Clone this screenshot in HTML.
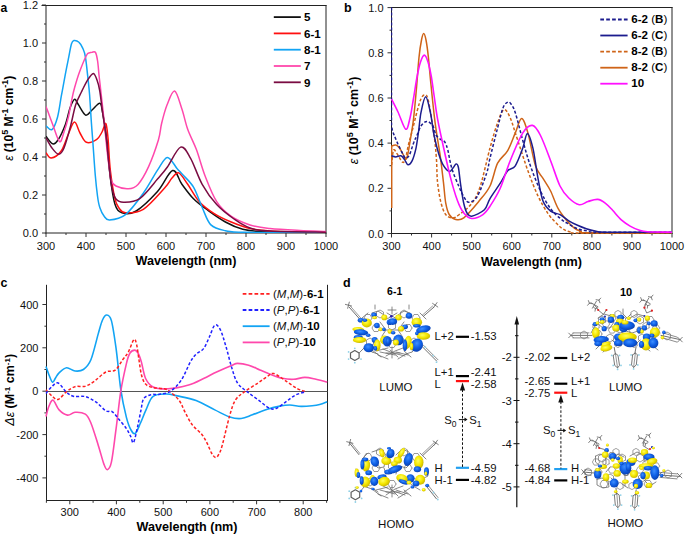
<!DOCTYPE html>
<html><head><meta charset="utf-8"><style>
html,body{margin:0;padding:0;background:#fff;}
svg{display:block;font-family:"Liberation Sans", sans-serif;}
</style></head><body>
<svg width="685" height="535" viewBox="0 0 685 535">
<defs>
<radialGradient id="gy" cx="42%" cy="38%" r="62%"><stop offset="0" stop-color="#ffff60"/><stop offset="0.55" stop-color="#f4e600"/><stop offset="1" stop-color="#cdb800"/></radialGradient>
<radialGradient id="gb" cx="42%" cy="38%" r="62%"><stop offset="0" stop-color="#3d8eff"/><stop offset="0.55" stop-color="#0f60e6"/><stop offset="1" stop-color="#0a42b4"/></radialGradient>
<clipPath id="clipA"><rect x="46" y="5" width="280" height="228"/></clipPath>
<clipPath id="clipB"><rect x="391" y="7" width="281" height="227"/></clipPath>
</defs>
<rect width="685" height="535" fill="#fff"/>
<text x="0.5" y="12.0" font-size="12.2" text-anchor="start" font-weight="bold" fill="#000">a</text>
<line x1="46.0" y1="5.5" x2="46.0" y2="233.5" stroke="#222" stroke-width="1"/>
<line x1="326.0" y1="5.0" x2="326.0" y2="233.5" stroke="#222" stroke-width="1"/>
<line x1="41.5" y1="5.5" x2="326.5" y2="5.5" stroke="#222" stroke-width="1"/>
<line x1="45.5" y1="233.0" x2="326.5" y2="233.0" stroke="#222" stroke-width="1"/>
<line x1="42.0" y1="233.0" x2="46.0" y2="233.0" stroke="#333" stroke-width="1"/>
<text x="38.0" y="237.0" font-size="11" text-anchor="end" fill="#111">0.0</text>
<line x1="44.0" y1="214.0" x2="46.0" y2="214.0" stroke="#333" stroke-width="1"/>
<line x1="42.0" y1="195.0" x2="46.0" y2="195.0" stroke="#333" stroke-width="1"/>
<text x="38.0" y="199.0" font-size="11" text-anchor="end" fill="#111">0.2</text>
<line x1="44.0" y1="176.0" x2="46.0" y2="176.0" stroke="#333" stroke-width="1"/>
<line x1="42.0" y1="157.0" x2="46.0" y2="157.0" stroke="#333" stroke-width="1"/>
<text x="38.0" y="161.0" font-size="11" text-anchor="end" fill="#111">0.4</text>
<line x1="44.0" y1="138.0" x2="46.0" y2="138.0" stroke="#333" stroke-width="1"/>
<line x1="42.0" y1="119.0" x2="46.0" y2="119.0" stroke="#333" stroke-width="1"/>
<text x="38.0" y="123.0" font-size="11" text-anchor="end" fill="#111">0.6</text>
<line x1="44.0" y1="100.0" x2="46.0" y2="100.0" stroke="#333" stroke-width="1"/>
<line x1="42.0" y1="81.0" x2="46.0" y2="81.0" stroke="#333" stroke-width="1"/>
<text x="38.0" y="85.0" font-size="11" text-anchor="end" fill="#111">0.8</text>
<line x1="44.0" y1="62.0" x2="46.0" y2="62.0" stroke="#333" stroke-width="1"/>
<line x1="42.0" y1="43.0" x2="46.0" y2="43.0" stroke="#333" stroke-width="1"/>
<text x="38.0" y="47.0" font-size="11" text-anchor="end" fill="#111">1.0</text>
<line x1="44.0" y1="24.0" x2="46.0" y2="24.0" stroke="#333" stroke-width="1"/>
<line x1="42.0" y1="5.0" x2="46.0" y2="5.0" stroke="#333" stroke-width="1"/>
<text x="38.0" y="9.0" font-size="11" text-anchor="end" fill="#111">1.2</text>
<line x1="46.0" y1="233.0" x2="46.0" y2="237.0" stroke="#333" stroke-width="1"/>
<text x="46.0" y="250.0" font-size="11" text-anchor="middle" fill="#111">300</text>
<line x1="66.0" y1="233.0" x2="66.0" y2="235.0" stroke="#333" stroke-width="1"/>
<line x1="86.0" y1="233.0" x2="86.0" y2="237.0" stroke="#333" stroke-width="1"/>
<text x="86.0" y="250.0" font-size="11" text-anchor="middle" fill="#111">400</text>
<line x1="106.0" y1="233.0" x2="106.0" y2="235.0" stroke="#333" stroke-width="1"/>
<line x1="126.0" y1="233.0" x2="126.0" y2="237.0" stroke="#333" stroke-width="1"/>
<text x="126.0" y="250.0" font-size="11" text-anchor="middle" fill="#111">500</text>
<line x1="146.0" y1="233.0" x2="146.0" y2="235.0" stroke="#333" stroke-width="1"/>
<line x1="166.0" y1="233.0" x2="166.0" y2="237.0" stroke="#333" stroke-width="1"/>
<text x="166.0" y="250.0" font-size="11" text-anchor="middle" fill="#111">600</text>
<line x1="186.0" y1="233.0" x2="186.0" y2="235.0" stroke="#333" stroke-width="1"/>
<line x1="206.0" y1="233.0" x2="206.0" y2="237.0" stroke="#333" stroke-width="1"/>
<text x="206.0" y="250.0" font-size="11" text-anchor="middle" fill="#111">700</text>
<line x1="226.0" y1="233.0" x2="226.0" y2="235.0" stroke="#333" stroke-width="1"/>
<line x1="246.0" y1="233.0" x2="246.0" y2="237.0" stroke="#333" stroke-width="1"/>
<text x="246.0" y="250.0" font-size="11" text-anchor="middle" fill="#111">800</text>
<line x1="266.0" y1="233.0" x2="266.0" y2="235.0" stroke="#333" stroke-width="1"/>
<line x1="286.0" y1="233.0" x2="286.0" y2="237.0" stroke="#333" stroke-width="1"/>
<text x="286.0" y="250.0" font-size="11" text-anchor="middle" fill="#111">900</text>
<line x1="306.0" y1="233.0" x2="306.0" y2="235.0" stroke="#333" stroke-width="1"/>
<line x1="326.0" y1="233.0" x2="326.0" y2="237.0" stroke="#333" stroke-width="1"/>
<text x="326.0" y="250.0" font-size="11" text-anchor="middle" fill="#111">1000</text>
<text x="186.0" y="264.5" font-size="12.6" text-anchor="middle" font-weight="bold" fill="#000">Wavelength (nm)</text>
<text transform="translate(12.5,118.3) rotate(-90)" font-size="12" text-anchor="middle" font-weight="bold" fill="#000"><tspan font-style="italic" font-weight="normal">&#949;</tspan> (10<tspan dy="-4.5" font-size="9">5</tspan><tspan dy="4.5"> M</tspan><tspan dy="-4.5" font-size="9">-1</tspan><tspan dy="4.5"> cm</tspan><tspan dy="-4.5" font-size="9">-1</tspan><tspan dy="4.5">)</tspan></text>
<g clip-path="url(#clipA)">
<path d="M46.0 136.3 C47.1 137.6 50.7 143.2 52.7 143.8 C54.7 144.4 55.9 143.2 58.0 140.0 C60.1 136.8 63.4 129.7 65.4 124.4 C67.4 119.1 68.5 112.2 70.0 108.0 C71.5 103.8 73.1 100.0 74.4 99.3 C75.7 98.6 76.1 101.4 78.0 104.0 C79.9 106.6 83.3 114.1 85.6 115.1 C87.9 116.1 89.6 112.0 92.0 110.0 C94.4 108.0 98.0 102.9 99.8 103.2 C101.5 103.5 101.3 105.9 102.5 112.0 C103.7 118.1 105.7 129.5 106.9 140.0 C108.2 150.5 108.7 164.3 110.0 175.0 C111.3 185.7 112.9 197.7 114.9 204.0 C116.9 210.3 118.5 211.6 122.0 212.8 C125.5 214.0 130.3 214.6 136.2 211.0 C142.1 207.4 151.4 198.2 157.5 191.5 C163.6 184.8 168.5 171.7 172.6 170.5 C176.7 169.3 178.4 179.6 181.9 184.3 C185.4 189.0 189.2 194.5 193.5 198.8 C197.8 203.2 202.7 206.5 208.0 210.4 C213.3 214.3 219.6 218.8 225.4 222.0 C231.2 225.2 237.0 227.7 242.8 229.3 C248.6 230.9 252.1 231.0 260.0 231.5 C267.9 232.0 279.0 232.1 290.0 232.3 C301.0 232.5 320.0 232.5 326.0 232.5" fill="none" stroke="#111111" stroke-width="1.5" stroke-linejoin="round"/>
<path d="M46.0 152.8 C46.9 153.7 48.7 158.2 51.2 158.0 C53.7 157.8 58.2 155.1 61.0 151.3 C63.8 147.5 65.8 139.9 68.0 135.0 C70.2 130.1 72.4 122.4 74.4 122.1 C76.4 121.8 78.0 129.6 80.0 133.0 C82.0 136.4 83.6 141.2 86.4 142.3 C89.2 143.4 94.2 141.0 96.8 139.3 C99.4 137.6 100.5 134.6 102.0 132.0 C103.5 129.4 104.8 122.6 105.8 123.6 C106.8 124.6 107.2 130.3 108.0 138.0 C108.8 145.7 109.1 159.9 110.3 170.0 C111.5 180.1 113.5 192.3 114.9 198.6 C116.4 204.9 117.2 205.6 119.0 208.0 C120.8 210.4 121.5 212.6 125.5 212.8 C129.6 213.0 136.8 213.4 143.3 209.3 C149.8 205.2 159.8 193.2 164.6 188.0 C169.4 182.8 169.6 180.5 172.0 178.0 C174.4 175.5 176.2 171.8 178.8 172.9 C181.4 174.0 184.3 179.5 187.7 184.3 C191.1 189.1 195.0 196.9 199.3 201.7 C203.7 206.5 208.5 209.9 213.8 213.3 C219.1 216.7 225.2 219.5 231.2 222.0 C237.2 224.5 243.5 227.0 250.0 228.5 C256.5 230.0 261.7 230.4 270.0 231.0 C278.3 231.6 290.7 231.8 300.0 232.0 C309.3 232.2 321.7 232.4 326.0 232.5" fill="none" stroke="#ff1010" stroke-width="1.5" stroke-linejoin="round"/>
<path d="M46.0 125.9 C47.0 126.5 50.0 131.0 51.9 129.6 C53.8 128.2 56.0 122.7 57.5 117.2 C59.0 111.7 60.0 103.6 61.2 96.7 C62.5 89.8 63.8 82.6 65.0 76.1 C66.2 69.5 67.6 62.8 68.7 57.4 C69.8 52.0 70.6 46.6 71.5 43.8 C72.4 41.0 72.7 40.9 73.9 40.6 C75.2 40.4 77.5 41.0 79.0 42.3 C80.5 43.5 81.6 45.6 82.7 48.1 C83.8 50.6 84.6 51.8 85.5 57.4 C86.4 63.0 87.6 75.4 88.3 81.7 C89.0 88.0 89.1 88.6 89.6 95.0 C90.1 101.4 90.7 112.5 91.2 120.0 C91.7 127.5 92.0 130.8 92.7 140.0 C93.4 149.2 94.5 166.2 95.3 175.5 C96.1 184.8 96.8 190.7 97.5 196.0 C98.2 201.3 98.7 204.2 99.8 207.5 C100.9 210.8 102.4 213.9 104.0 216.0 C105.6 218.1 105.9 220.1 109.5 219.9 C113.1 219.7 119.9 219.0 125.5 214.6 C131.1 210.2 138.0 200.7 143.3 193.3 C148.6 185.9 153.5 176.2 157.5 170.2 C161.5 164.2 164.1 157.7 167.3 157.4 C170.6 157.1 174.4 165.5 177.0 168.4 C179.6 171.3 180.2 171.9 183.0 175.0 C185.8 178.1 190.3 181.8 193.5 187.2 C196.7 192.6 199.3 201.2 202.2 207.5 C205.1 213.8 207.0 221.0 210.9 224.9 C214.8 228.8 219.7 229.5 225.4 230.7 C231.1 231.9 228.2 232.0 245.0 232.3 C261.8 232.6 312.5 232.5 326.0 232.5" fill="none" stroke="#12a4f4" stroke-width="1.5" stroke-linejoin="round"/>
<path d="M46.0 106.4 C47.1 109.3 50.2 118.1 52.5 124.0 C54.8 129.9 57.6 140.3 59.5 141.6 C61.4 142.9 62.5 136.1 64.0 132.0 C65.5 127.9 67.1 122.4 68.4 117.0 C69.7 111.6 70.8 104.4 71.8 99.6 C72.8 94.8 73.2 92.6 74.5 88.0 C75.8 83.4 77.5 77.4 79.5 72.0 C81.5 66.6 84.8 58.7 86.4 55.5 C88.0 52.3 88.4 53.3 89.3 52.8 C90.2 52.3 91.0 52.3 92.0 52.3 C93.0 52.2 94.6 51.0 95.5 52.5 C96.4 54.0 97.0 57.2 97.6 61.0 C98.2 64.8 98.5 70.0 99.0 75.0 C99.5 80.0 100.0 83.5 100.8 91.0 C101.6 98.5 103.0 110.2 104.0 120.0 C105.0 129.8 106.1 141.7 107.0 150.0 C107.9 158.3 108.8 164.8 109.5 170.0 C110.2 175.2 110.2 178.2 111.3 180.9 C112.4 183.6 113.2 184.7 116.0 186.0 C118.8 187.3 124.5 189.1 128.2 188.8 C131.9 188.5 134.6 188.1 138.0 184.4 C141.4 180.7 145.2 174.0 148.6 166.6 C152.0 159.2 156.2 147.2 158.4 140.0 C160.6 132.8 160.2 129.3 161.6 123.5 C163.0 117.7 164.8 110.4 167.0 105.0 C169.2 99.6 172.1 90.3 174.6 91.0 C177.1 91.7 179.7 102.6 181.9 109.0 C184.1 115.4 185.3 122.5 187.7 129.3 C190.1 136.1 193.5 141.9 196.4 149.6 C199.3 157.3 201.6 167.0 205.0 175.7 C208.4 184.4 212.4 194.9 216.7 201.7 C221.0 208.4 225.4 212.3 231.0 216.2 C236.6 220.1 243.5 222.9 250.0 225.0 C256.5 227.1 261.7 227.6 270.0 228.5 C278.3 229.4 290.7 230.0 300.0 230.5 C309.3 231.0 321.7 231.3 326.0 231.5" fill="none" stroke="#ff48ac" stroke-width="1.5" stroke-linejoin="round"/>
<path d="M46.0 137.8 C47.0 139.5 49.9 145.2 52.0 148.0 C54.1 150.8 56.7 154.3 58.7 154.3 C60.7 154.3 62.0 152.7 64.0 148.0 C66.0 143.3 68.7 133.1 70.6 125.9 C72.5 118.7 73.8 110.7 75.6 105.0 C77.4 99.3 79.4 96.1 81.4 92.0 C83.4 87.9 85.4 83.4 87.4 80.3 C89.4 77.2 91.7 73.5 93.3 73.4 C94.9 73.4 95.9 77.1 97.0 80.0 C98.1 82.9 99.0 86.3 99.8 91.0 C100.6 95.7 101.3 102.8 102.0 108.0 C102.7 113.2 103.2 116.7 104.0 122.0 C104.8 127.3 105.7 132.8 106.5 140.0 C107.3 147.2 108.1 157.0 109.0 165.0 C109.9 173.0 110.8 182.3 112.0 188.0 C113.2 193.7 114.0 196.6 116.0 199.0 C118.0 201.4 119.8 202.3 123.7 202.2 C127.7 202.1 134.1 202.4 139.7 198.6 C145.3 194.8 152.9 184.4 157.5 179.1 C162.1 173.8 163.6 172.3 167.4 167.0 C171.2 161.7 176.7 148.5 180.6 147.1 C184.5 145.7 187.0 152.1 190.6 158.3 C194.2 164.5 197.8 176.6 202.2 184.3 C206.5 192.0 211.4 198.8 216.7 204.6 C222.0 210.4 228.4 215.1 234.0 219.0 C239.6 222.9 244.0 226.0 250.0 228.0 C256.0 230.0 257.3 230.3 270.0 231.0 C282.7 231.7 316.7 232.1 326.0 232.3" fill="none" stroke="#7a0c42" stroke-width="1.5" stroke-linejoin="round"/>
</g>
<line x1="273.8" y1="17.1" x2="300.8" y2="17.1" stroke="#111111" stroke-width="1.8"/>
<text x="304.0" y="21.4" font-size="11.6" text-anchor="start" font-weight="bold" fill="#000">5</text>
<line x1="273.8" y1="33.4" x2="300.8" y2="33.4" stroke="#ff1010" stroke-width="1.8"/>
<text x="304.0" y="37.7" font-size="11.6" text-anchor="start" font-weight="bold" fill="#000">6-1</text>
<line x1="273.8" y1="49.7" x2="300.8" y2="49.7" stroke="#12a4f4" stroke-width="1.8"/>
<text x="304.0" y="54.0" font-size="11.6" text-anchor="start" font-weight="bold" fill="#000">8-1</text>
<line x1="273.8" y1="66.0" x2="300.8" y2="66.0" stroke="#ff48ac" stroke-width="1.8"/>
<text x="304.0" y="70.3" font-size="11.6" text-anchor="start" font-weight="bold" fill="#000">7</text>
<line x1="273.8" y1="82.3" x2="300.8" y2="82.3" stroke="#7a0c42" stroke-width="1.8"/>
<text x="304.0" y="86.6" font-size="11.6" text-anchor="start" font-weight="bold" fill="#000">9</text>
<text x="344.0" y="12.0" font-size="12.5" text-anchor="start" font-weight="bold" fill="#000">b</text>
<line x1="391.5" y1="7.0" x2="391.5" y2="234.0" stroke="#222" stroke-width="1"/>
<line x1="672.0" y1="7.0" x2="672.0" y2="234.0" stroke="#222" stroke-width="1"/>
<line x1="391.0" y1="7.5" x2="672.5" y2="7.5" stroke="#222" stroke-width="1"/>
<line x1="391.0" y1="233.5" x2="672.5" y2="233.5" stroke="#222" stroke-width="1"/>
<line x1="387.5" y1="233.5" x2="391.5" y2="233.5" stroke="#333" stroke-width="1"/>
<text x="383.5" y="237.5" font-size="11" text-anchor="end" fill="#111">0.0</text>
<line x1="389.5" y1="210.9" x2="391.5" y2="210.9" stroke="#333" stroke-width="1"/>
<line x1="387.5" y1="188.3" x2="391.5" y2="188.3" stroke="#333" stroke-width="1"/>
<text x="383.5" y="192.3" font-size="11" text-anchor="end" fill="#111">0.2</text>
<line x1="389.5" y1="165.7" x2="391.5" y2="165.7" stroke="#333" stroke-width="1"/>
<line x1="387.5" y1="143.1" x2="391.5" y2="143.1" stroke="#333" stroke-width="1"/>
<text x="383.5" y="147.1" font-size="11" text-anchor="end" fill="#111">0.4</text>
<line x1="389.5" y1="120.5" x2="391.5" y2="120.5" stroke="#333" stroke-width="1"/>
<line x1="387.5" y1="98.0" x2="391.5" y2="98.0" stroke="#333" stroke-width="1"/>
<text x="383.5" y="102.0" font-size="11" text-anchor="end" fill="#111">0.6</text>
<line x1="389.5" y1="75.4" x2="391.5" y2="75.4" stroke="#333" stroke-width="1"/>
<line x1="387.5" y1="52.8" x2="391.5" y2="52.8" stroke="#333" stroke-width="1"/>
<text x="383.5" y="56.8" font-size="11" text-anchor="end" fill="#111">0.8</text>
<line x1="389.5" y1="30.2" x2="391.5" y2="30.2" stroke="#333" stroke-width="1"/>
<line x1="387.5" y1="7.6" x2="391.5" y2="7.6" stroke="#333" stroke-width="1"/>
<text x="383.5" y="11.6" font-size="11" text-anchor="end" fill="#111">1.0</text>
<line x1="391.5" y1="233.5" x2="391.5" y2="237.5" stroke="#333" stroke-width="1"/>
<text x="391.5" y="250.0" font-size="11" text-anchor="middle" fill="#111">300</text>
<line x1="411.5" y1="233.5" x2="411.5" y2="235.5" stroke="#333" stroke-width="1"/>
<line x1="431.6" y1="233.5" x2="431.6" y2="237.5" stroke="#333" stroke-width="1"/>
<text x="431.6" y="250.0" font-size="11" text-anchor="middle" fill="#111">400</text>
<line x1="451.6" y1="233.5" x2="451.6" y2="235.5" stroke="#333" stroke-width="1"/>
<line x1="471.6" y1="233.5" x2="471.6" y2="237.5" stroke="#333" stroke-width="1"/>
<text x="471.6" y="250.0" font-size="11" text-anchor="middle" fill="#111">500</text>
<line x1="491.7" y1="233.5" x2="491.7" y2="235.5" stroke="#333" stroke-width="1"/>
<line x1="511.7" y1="233.5" x2="511.7" y2="237.5" stroke="#333" stroke-width="1"/>
<text x="511.7" y="250.0" font-size="11" text-anchor="middle" fill="#111">600</text>
<line x1="531.8" y1="233.5" x2="531.8" y2="235.5" stroke="#333" stroke-width="1"/>
<line x1="551.8" y1="233.5" x2="551.8" y2="237.5" stroke="#333" stroke-width="1"/>
<text x="551.8" y="250.0" font-size="11" text-anchor="middle" fill="#111">700</text>
<line x1="571.8" y1="233.5" x2="571.8" y2="235.5" stroke="#333" stroke-width="1"/>
<line x1="591.9" y1="233.5" x2="591.9" y2="237.5" stroke="#333" stroke-width="1"/>
<text x="591.9" y="250.0" font-size="11" text-anchor="middle" fill="#111">800</text>
<line x1="611.9" y1="233.5" x2="611.9" y2="235.5" stroke="#333" stroke-width="1"/>
<line x1="631.9" y1="233.5" x2="631.9" y2="237.5" stroke="#333" stroke-width="1"/>
<text x="631.9" y="250.0" font-size="11" text-anchor="middle" fill="#111">900</text>
<line x1="652.0" y1="233.5" x2="652.0" y2="235.5" stroke="#333" stroke-width="1"/>
<line x1="672.0" y1="233.5" x2="672.0" y2="237.5" stroke="#333" stroke-width="1"/>
<text x="672.0" y="250.0" font-size="11" text-anchor="middle" fill="#111">1000</text>
<text x="531.5" y="266.2" font-size="12.6" text-anchor="middle" font-weight="bold" fill="#000">Wavelength (nm)</text>
<text transform="translate(357.8,120.5) rotate(-90)" font-size="12.5" text-anchor="middle" font-weight="bold" fill="#000"><tspan font-style="italic" font-weight="normal">&#949;</tspan> (10<tspan dy="-4.5" font-size="9">5</tspan><tspan dy="4.5"> M</tspan><tspan dy="-4.5" font-size="9">-1</tspan><tspan dy="4.5"> cm</tspan><tspan dy="-4.5" font-size="9">-1</tspan><tspan dy="4.5">)</tspan></text>
<g clip-path="url(#clipB)">
<path d="M391.7 208 L391.7 150 391.7 146.0 C392.4 145.8 394.4 144.7 395.7 145.0 C397.0 145.3 398.2 146.4 399.5 148.0 C400.8 149.6 402.2 152.8 403.2 154.7 C404.2 156.6 404.6 159.5 405.4 159.5 C406.1 159.5 406.8 158.4 407.7 154.7 C408.6 151.0 409.8 143.3 410.7 137.5 C411.6 131.7 412.4 128.2 413.4 120.0 C414.4 111.8 415.6 98.4 416.5 88.0 C417.4 77.6 418.2 65.4 419.0 57.4 C419.8 49.4 420.7 44.0 421.5 40.0 C422.3 36.0 422.9 33.5 423.7 33.5 C424.4 33.5 425.2 36.0 426.0 40.0 C426.8 44.0 427.6 49.9 428.4 57.4 C429.2 64.9 429.9 74.0 431.0 85.0 C432.1 96.0 433.7 112.0 435.2 123.4 C436.7 134.8 438.5 144.0 439.9 153.7 C441.3 163.4 442.4 173.6 443.4 181.8 C444.4 190.0 444.7 197.4 445.7 202.8 C446.7 208.2 447.6 211.8 449.2 214.5 C450.8 217.2 452.6 218.6 455.0 219.2 C457.4 219.8 459.7 221.0 463.8 217.8 C467.9 214.7 475.3 205.6 479.7 200.3 C484.1 195.0 487.0 192.2 490.0 186.0 C493.0 179.8 494.7 169.1 497.6 163.2 C500.6 157.3 504.8 155.6 507.7 150.6 C510.6 145.6 513.0 138.2 515.3 132.9 C517.6 127.6 519.5 118.5 521.6 118.5 C523.7 118.5 525.6 125.0 527.9 132.9 C530.2 140.8 533.0 158.2 535.5 165.8 C538.0 173.4 540.5 174.2 543.0 178.4 C545.5 182.6 548.1 185.9 550.6 191.0 C553.1 196.1 555.5 203.7 558.2 208.7 C560.9 213.7 564.4 217.6 567.0 220.8 C569.6 224.0 571.7 226.1 574.0 227.8 C576.3 229.6 578.7 230.5 581.0 231.3 C583.3 232.1 572.8 232.4 588.0 232.7 C603.2 233.0 658.0 232.9 672.0 233.0" fill="none" stroke="#cf6418" stroke-width="1.5" stroke-linejoin="round"/>
<path d="M391.6 165.0 C391.9 162.5 392.6 152.0 393.5 150.2 C394.4 148.3 395.7 151.9 397.2 153.9 C398.7 155.9 401.0 161.2 402.4 162.1 C403.8 163.0 404.4 162.0 405.4 159.2 C406.4 156.3 407.3 149.6 408.4 145.0 C409.5 140.4 410.4 137.6 411.9 131.9 C413.4 126.2 415.7 116.4 417.2 110.9 C418.7 105.4 419.7 101.7 420.9 99.0 C422.1 96.3 423.4 94.8 424.6 95.0 C425.8 95.2 426.6 93.3 428.2 100.0 C429.8 106.7 432.6 125.3 434.0 135.0 C435.4 144.7 435.8 150.6 436.4 158.4 C437.0 166.2 436.7 174.4 437.5 181.8 C438.3 189.2 439.6 197.4 441.0 202.8 C442.4 208.2 443.8 212.0 445.7 214.5 C447.6 217.0 450.3 218.1 452.7 218.0 C455.1 217.9 456.8 216.4 460.0 214.0 C463.2 211.6 468.4 208.0 471.7 203.5 C475.0 199.0 476.9 196.2 480.0 187.0 C483.1 177.8 487.1 158.7 490.0 148.0 C492.9 137.3 495.3 129.2 497.6 122.8 C499.9 116.4 501.8 110.5 503.9 109.7 C506.0 108.9 507.9 112.7 510.2 117.8 C512.5 122.9 514.8 131.7 517.8 140.5 C520.8 149.3 524.5 161.6 527.9 170.8 C531.3 180.1 534.6 188.8 538.0 196.0 C541.4 203.2 545.0 209.1 548.1 213.7 C551.2 218.3 554.4 221.2 556.9 223.8 C559.4 226.4 560.8 227.6 563.0 229.0 C565.2 230.4 567.2 231.3 570.0 232.0 C572.8 232.7 563.0 232.8 580.0 233.0 C597.0 233.2 656.7 233.0 672.0 233.0" fill="none" stroke="#cf6418" stroke-width="1.5" stroke-dasharray="3 2" stroke-linejoin="round"/>
<path d="M391.5 155.8 C392.2 156.0 394.1 156.9 395.7 156.9 C397.3 156.9 399.5 155.3 401.0 155.8 C402.5 156.3 403.5 158.4 404.7 159.9 C405.9 161.4 406.8 164.7 408.0 164.8 C409.2 164.9 410.9 163.4 412.2 160.7 C413.5 158.0 414.8 153.5 415.9 148.7 C416.9 143.9 417.6 138.1 418.5 132.0 C419.4 126.0 419.8 118.3 421.0 112.4 C422.2 106.5 424.1 96.6 425.7 96.7 C427.3 96.8 429.1 106.6 430.5 113.0 C431.9 119.4 432.6 128.2 434.0 135.0 C435.4 141.8 437.1 148.6 438.7 153.7 C440.3 158.8 441.6 162.4 443.4 165.4 C445.2 168.4 447.9 171.1 449.5 171.5 C451.1 171.9 451.9 169.2 453.0 168.0 C454.1 166.8 455.1 164.2 456.0 164.0 C456.9 163.8 457.5 163.6 458.3 167.0 C459.1 170.4 459.7 178.3 460.6 184.4 C461.5 190.5 462.7 198.7 463.8 203.5 C464.9 208.3 465.7 210.9 467.0 213.0 C468.3 215.1 468.8 216.7 471.7 216.2 C474.6 215.7 481.3 212.7 484.4 209.8 C487.4 206.9 487.4 203.0 490.0 198.6 C492.6 194.2 497.2 188.0 500.1 183.4 C503.1 178.8 505.2 173.7 507.7 170.8 C510.2 167.9 512.8 169.6 515.3 165.8 C517.8 162.0 520.8 153.5 522.8 148.1 C524.8 142.7 525.7 133.4 527.4 133.4 C529.1 133.4 531.1 140.6 532.9 148.1 C534.7 155.6 536.3 169.6 538.0 178.4 C539.7 187.2 540.9 195.6 543.0 201.1 C545.1 206.6 547.8 208.9 550.6 211.2 C553.4 213.5 557.0 213.1 560.0 214.7 C563.0 216.3 565.9 219.1 568.8 220.8 C571.7 222.6 574.6 223.9 577.5 225.2 C580.4 226.5 583.4 227.7 586.3 228.7 C589.2 229.7 591.5 230.4 595.0 231.0 C598.5 231.6 594.5 232.0 607.3 232.2 C620.1 232.4 661.2 232.4 672.0 232.4" fill="none" stroke="#1c1c8e" stroke-width="1.5" stroke-linejoin="round"/>
<path d="M391.5 7.6 L391.5 125 391.5 125.0 C391.7 126.0 392.1 129.3 392.5 131.0 C392.9 132.7 393.3 133.0 394.2 135.2 C395.1 137.4 396.5 140.9 398.0 144.2 C399.5 147.4 402.0 152.4 403.2 154.7 C404.4 157.0 404.4 157.9 405.4 158.0 C406.4 158.1 407.8 158.0 409.2 155.4 C410.6 152.8 412.4 145.9 413.7 142.7 C414.9 139.5 415.5 138.8 416.7 136.0 C417.9 133.2 419.3 128.4 421.0 126.0 C422.7 123.6 424.9 121.4 426.9 121.4 C428.9 121.4 431.4 123.7 432.9 126.0 C434.4 128.3 434.6 132.7 436.0 135.0 C437.4 137.3 439.5 138.5 441.0 139.7 C442.5 140.9 443.7 140.3 444.8 142.0 C445.9 143.7 446.7 145.7 447.8 150.0 C448.9 154.3 449.9 162.0 451.7 168.0 C453.5 174.0 456.6 181.0 458.7 186.0 C460.8 191.0 462.8 195.3 464.5 198.0 C466.2 200.7 467.1 202.5 469.2 202.2 C471.3 201.9 474.4 201.2 477.3 196.3 C480.2 191.4 484.6 179.3 486.7 173.0 C488.8 166.7 488.2 165.7 490.0 158.2 C491.8 150.7 495.4 136.3 497.6 127.9 C499.8 119.5 501.3 112.3 503.0 108.0 C504.7 103.7 506.4 102.8 507.7 102.1 C509.0 101.4 509.7 102.2 511.0 104.0 C512.3 105.8 513.3 106.6 515.3 112.7 C517.3 118.8 520.3 131.7 522.8 140.5 C525.3 149.3 527.4 157.4 530.4 165.8 C533.4 174.2 537.1 183.8 540.5 191.0 C543.9 198.2 547.2 204.1 550.6 208.7 C554.0 213.3 557.8 216.3 560.7 218.8 C563.7 221.3 565.5 222.2 568.3 223.8 C571.1 225.5 574.2 227.5 577.5 228.7 C580.8 229.9 584.5 230.4 588.0 231.0 C591.5 231.6 584.5 232.0 598.5 232.2 C612.5 232.4 659.8 232.2 672.0 232.2" fill="none" stroke="#1c1c8e" stroke-width="1.5" stroke-dasharray="3 2" stroke-linejoin="round"/>
<path d="M391.5 99.0 C392.6 101.2 395.6 107.0 398.0 112.0 C400.4 117.0 403.7 128.2 405.7 129.2 C407.7 130.2 408.7 123.0 410.0 118.0 C411.3 113.0 412.2 106.0 413.4 99.0 C414.6 92.0 416.0 82.2 417.2 76.0 C418.4 69.8 419.3 65.5 420.5 62.0 C421.7 58.5 423.1 55.1 424.3 55.1 C425.6 55.1 426.9 58.5 428.0 62.0 C429.1 65.5 430.2 70.5 431.2 76.0 C432.2 81.5 432.9 87.9 434.0 95.0 C435.1 102.1 435.9 110.1 437.5 118.7 C439.1 127.3 441.2 137.0 443.4 146.7 C445.5 156.4 448.1 168.1 450.4 177.1 C452.7 186.1 455.2 194.5 457.4 200.5 C459.6 206.5 461.4 210.0 463.8 213.0 C466.2 216.0 468.5 218.2 471.7 218.5 C474.9 218.8 479.8 216.7 482.9 214.6 C485.9 212.5 487.1 210.5 490.0 206.2 C492.9 201.8 496.7 196.1 500.1 188.5 C503.5 180.9 506.4 170.0 510.2 160.7 C514.0 151.4 519.1 138.8 522.8 132.9 C526.5 127.0 529.4 125.0 532.4 125.4 C535.4 125.8 537.5 129.6 540.5 135.5 C543.5 141.4 547.4 152.3 550.6 160.7 C553.9 169.1 557.0 179.8 560.0 186.0 C563.0 192.2 565.6 194.9 568.8 198.0 C572.0 201.1 576.1 204.1 579.3 204.7 C582.5 205.3 584.9 202.4 588.0 201.5 C591.1 200.6 594.8 199.1 597.7 199.4 C600.6 199.7 603.0 201.5 605.5 203.3 C608.0 205.1 610.0 207.5 612.6 210.3 C615.2 213.1 618.4 217.3 621.3 219.9 C624.2 222.5 627.2 224.4 630.1 226.1 C633.0 227.8 635.9 229.0 638.8 229.9 C641.7 230.8 642.1 231.3 647.6 231.7 C653.1 232.1 667.9 232.1 672.0 232.2" fill="none" stroke="#ff10ff" stroke-width="1.6" stroke-linejoin="round"/>
</g>
<line x1="600.3" y1="19.5" x2="627.6" y2="19.5" stroke="#1c1c8e" stroke-width="1.8" stroke-dasharray="3.7 2.2"/>
<text x="631.2" y="23.2" font-size="11.6" text-anchor="start" font-weight="bold" fill="#000">6-2 <tspan font-weight="normal">(</tspan>B<tspan font-weight="normal">)</tspan></text>
<line x1="600.3" y1="35.5" x2="627.6" y2="35.5" stroke="#1c1c8e" stroke-width="1.8"/>
<text x="631.2" y="39.2" font-size="11.6" text-anchor="start" font-weight="bold" fill="#000">6-2 <tspan font-weight="normal">(</tspan>C<tspan font-weight="normal">)</tspan></text>
<line x1="600.3" y1="51.6" x2="627.6" y2="51.6" stroke="#cf6418" stroke-width="1.8" stroke-dasharray="3.7 2.2"/>
<text x="631.2" y="55.3" font-size="11.6" text-anchor="start" font-weight="bold" fill="#000">8-2 <tspan font-weight="normal">(</tspan>B<tspan font-weight="normal">)</tspan></text>
<line x1="600.3" y1="67.7" x2="627.6" y2="67.7" stroke="#cf6418" stroke-width="1.8"/>
<text x="631.2" y="71.4" font-size="11.6" text-anchor="start" font-weight="bold" fill="#000">8-2 <tspan font-weight="normal">(</tspan>C<tspan font-weight="normal">)</tspan></text>
<line x1="600.3" y1="83.7" x2="627.6" y2="83.7" stroke="#ff10ff" stroke-width="1.8"/>
<text x="631.2" y="87.4" font-size="11.6" text-anchor="start" font-weight="bold" fill="#000">10</text>
<text x="0.5" y="287.0" font-size="12.5" text-anchor="start" font-weight="bold" fill="#000">c</text>
<line x1="46.5" y1="284.8" x2="46.5" y2="501.0" stroke="#222" stroke-width="1"/>
<line x1="327.5" y1="284.8" x2="327.5" y2="501.0" stroke="#222" stroke-width="1"/>
<line x1="46.0" y1="500.5" x2="328.0" y2="500.5" stroke="#222" stroke-width="1"/>
<line x1="46.5" y1="391.5" x2="327.5" y2="391.5" stroke="#555" stroke-width="1"/>
<line x1="42.4" y1="477.9" x2="46.4" y2="477.9" stroke="#333" stroke-width="1"/>
<text x="38.4" y="481.9" font-size="11" text-anchor="end" fill="#111">-400</text>
<line x1="42.4" y1="434.6" x2="46.4" y2="434.6" stroke="#333" stroke-width="1"/>
<text x="38.4" y="438.6" font-size="11" text-anchor="end" fill="#111">-200</text>
<line x1="42.4" y1="391.2" x2="46.4" y2="391.2" stroke="#333" stroke-width="1"/>
<text x="38.4" y="395.2" font-size="11" text-anchor="end" fill="#111">0</text>
<line x1="42.4" y1="347.8" x2="46.4" y2="347.8" stroke="#333" stroke-width="1"/>
<text x="38.4" y="351.8" font-size="11" text-anchor="end" fill="#111">200</text>
<line x1="42.4" y1="304.5" x2="46.4" y2="304.5" stroke="#333" stroke-width="1"/>
<text x="38.4" y="308.5" font-size="11" text-anchor="end" fill="#111">400</text>
<line x1="44.4" y1="456.2" x2="46.4" y2="456.2" stroke="#333" stroke-width="1"/>
<line x1="44.4" y1="412.9" x2="46.4" y2="412.9" stroke="#333" stroke-width="1"/>
<line x1="44.4" y1="369.5" x2="46.4" y2="369.5" stroke="#333" stroke-width="1"/>
<line x1="44.4" y1="326.2" x2="46.4" y2="326.2" stroke="#333" stroke-width="1"/>
<line x1="46.4" y1="500.3" x2="46.4" y2="502.8" stroke="#333" stroke-width="1"/>
<line x1="69.8" y1="500.3" x2="69.8" y2="504.3" stroke="#333" stroke-width="1"/>
<text x="69.8" y="516.3" font-size="11" text-anchor="middle" fill="#111">300</text>
<line x1="93.1" y1="500.3" x2="93.1" y2="502.8" stroke="#333" stroke-width="1"/>
<line x1="116.4" y1="500.3" x2="116.4" y2="504.3" stroke="#333" stroke-width="1"/>
<text x="116.4" y="516.3" font-size="11" text-anchor="middle" fill="#111">400</text>
<line x1="139.8" y1="500.3" x2="139.8" y2="502.8" stroke="#333" stroke-width="1"/>
<line x1="163.2" y1="500.3" x2="163.2" y2="504.3" stroke="#333" stroke-width="1"/>
<text x="163.2" y="516.3" font-size="11" text-anchor="middle" fill="#111">500</text>
<line x1="186.5" y1="500.3" x2="186.5" y2="502.8" stroke="#333" stroke-width="1"/>
<line x1="209.9" y1="500.3" x2="209.9" y2="504.3" stroke="#333" stroke-width="1"/>
<text x="209.9" y="516.3" font-size="11" text-anchor="middle" fill="#111">600</text>
<line x1="233.2" y1="500.3" x2="233.2" y2="502.8" stroke="#333" stroke-width="1"/>
<line x1="256.6" y1="500.3" x2="256.6" y2="504.3" stroke="#333" stroke-width="1"/>
<text x="256.6" y="516.3" font-size="11" text-anchor="middle" fill="#111">700</text>
<line x1="279.9" y1="500.3" x2="279.9" y2="502.8" stroke="#333" stroke-width="1"/>
<line x1="303.2" y1="500.3" x2="303.2" y2="504.3" stroke="#333" stroke-width="1"/>
<text x="303.2" y="516.3" font-size="11" text-anchor="middle" fill="#111">800</text>
<line x1="326.6" y1="500.3" x2="326.6" y2="502.8" stroke="#333" stroke-width="1"/>
<text x="187.0" y="531.0" font-size="12.6" text-anchor="middle" font-weight="bold" fill="#000">Wavelength (nm)</text>
<text transform="translate(14.3,389.8) rotate(-90)" font-size="12.5" text-anchor="middle" font-weight="bold" fill="#000"><tspan font-style="italic" font-weight="normal">&#916;&#949;</tspan> (M<tspan dy="-4" font-size="8">-1</tspan><tspan dy="4"> cm</tspan><tspan dy="-4" font-size="8">-1</tspan><tspan dy="4">)</tspan></text>
<path d="M46.0 366.4 C46.5 367.8 47.9 372.4 49.0 375.0 C50.1 377.6 51.4 381.7 52.5 382.2 C53.6 382.7 54.4 379.6 55.5 378.0 C56.6 376.4 57.2 374.6 59.1 372.9 C61.0 371.2 63.9 368.0 66.6 367.7 C69.2 367.4 72.2 370.7 75.0 371.0 C77.8 371.3 80.8 371.4 83.4 369.5 C86.1 367.6 88.4 365.8 90.9 359.8 C93.4 353.8 96.4 340.2 98.3 333.6 C100.2 327.0 101.1 323.1 102.5 320.0 C103.9 316.9 105.2 314.9 106.7 315.0 C108.2 315.1 109.8 315.0 111.4 320.6 C113.0 326.2 114.5 337.1 116.1 348.6 C117.7 360.1 119.1 378.2 120.8 389.7 C122.5 401.2 124.7 410.7 126.4 417.4 C128.1 424.1 129.5 427.4 131.0 430.0 C132.5 432.6 133.7 434.5 135.3 433.3 C136.9 432.1 138.7 426.9 140.5 423.0 C142.3 419.1 143.9 414.3 146.0 409.9 C148.1 405.5 149.7 399.0 153.1 396.4 C156.5 393.8 162.1 394.1 166.2 394.0 C170.2 393.9 172.4 394.8 177.4 395.9 C182.4 397.0 189.9 398.3 196.1 400.6 C202.3 402.9 209.2 407.2 214.8 409.9 C220.4 412.6 225.3 415.6 229.7 417.0 C234.1 418.4 237.4 418.9 241.2 418.5 C245.0 418.1 248.0 416.4 252.4 414.8 C256.8 413.2 263.0 410.6 267.4 409.2 C271.8 407.8 274.9 407.1 278.6 406.4 C282.3 405.7 286.1 405.0 289.8 405.0 C293.5 405.0 297.3 406.3 301.0 406.4 C304.7 406.5 309.1 406.1 312.2 405.8 C315.3 405.5 317.2 405.2 319.7 404.5 C322.2 403.8 325.9 402.2 327.2 401.7" fill="none" stroke="#12a4f4" stroke-width="1.6" stroke-linejoin="round"/>
<path d="M46.0 416.4 C46.5 414.7 47.8 408.7 49.0 406.0 C50.2 403.3 51.4 399.6 53.1 400.2 C54.8 400.8 56.7 407.4 59.1 409.9 C61.5 412.4 64.8 414.7 67.5 415.1 C70.2 415.5 72.0 412.5 75.0 412.3 C78.0 412.1 82.6 412.4 85.3 414.2 C88.0 416.0 88.7 417.8 90.9 423.0 C93.1 428.2 96.1 438.5 98.3 445.4 C100.5 452.2 102.4 460.1 103.9 464.1 C105.4 468.2 106.0 470.0 107.3 469.7 C108.5 469.4 109.9 469.0 111.4 462.2 C112.9 455.4 114.5 440.4 116.1 428.6 C117.7 416.8 119.1 402.0 120.8 391.2 C122.5 380.4 124.9 370.0 126.4 363.6 C127.9 357.2 128.6 355.2 130.0 353.0 C131.4 350.8 133.5 350.1 134.8 350.1 C136.1 350.1 136.9 351.1 138.0 353.0 C139.1 354.9 140.0 357.4 141.3 361.7 C142.6 365.9 143.6 374.3 145.6 378.5 C147.6 382.7 149.4 385.2 153.1 386.9 C156.8 388.6 162.1 389.1 168.0 388.8 C173.9 388.5 182.7 386.7 188.6 385.0 C194.5 383.3 198.9 380.7 203.6 378.5 C208.3 376.3 211.9 374.2 216.6 372.0 C221.3 369.8 228.1 366.8 231.6 365.4 C235.1 364.0 234.7 363.4 237.5 363.4 C240.3 363.4 245.0 364.1 248.7 365.2 C252.4 366.3 256.2 368.3 259.9 369.9 C263.6 371.5 267.4 373.2 271.1 374.6 C274.8 376.0 278.6 377.5 282.3 378.3 C286.1 379.1 289.9 379.5 293.6 379.3 C297.4 379.1 301.1 377.4 304.8 377.4 C308.5 377.4 312.3 378.5 316.0 379.3 C319.7 380.1 325.3 381.6 327.2 382.1" fill="none" stroke="#ff48ac" stroke-width="1.6" stroke-linejoin="round"/>
<path d="M46.0 389.7 C47.0 390.8 50.0 394.4 52.0 396.0 C54.0 397.6 55.7 400.2 58.1 399.5 C60.5 398.8 63.8 393.7 66.6 391.6 C69.4 389.5 71.9 387.6 75.0 386.7 C78.1 385.8 82.0 387.1 85.3 386.2 C88.6 385.2 91.2 383.4 94.6 381.0 C98.0 378.6 102.4 373.8 105.8 372.0 C109.2 370.2 112.4 372.1 115.2 370.1 C118.0 368.1 120.4 362.8 122.6 359.8 C124.8 356.8 126.3 355.7 128.2 352.3 C130.1 348.9 132.5 340.8 133.9 339.6 C135.3 338.4 135.8 341.5 136.7 344.9 C137.5 348.3 138.2 355.0 139.0 360.0 C139.8 365.0 140.4 371.0 141.5 375.0 C142.6 379.0 143.7 382.0 145.6 384.1 C147.5 386.2 150.0 386.7 153.1 387.5 C156.2 388.3 161.5 388.1 164.3 388.8 C167.1 389.5 167.4 389.6 169.9 391.6 C172.4 393.6 176.8 397.2 179.3 400.6 C181.8 404.0 182.7 407.8 184.9 411.8 C187.1 415.9 189.5 421.2 192.3 424.9 C195.1 428.6 199.2 431.1 201.7 434.2 C204.2 437.3 205.7 440.5 207.3 443.6 C208.9 446.7 210.1 450.7 211.5 453.0 C212.9 455.3 214.4 457.4 215.7 457.6 C216.9 457.8 217.9 456.0 219.0 454.0 C220.1 452.0 220.4 451.8 222.2 445.4 C224.0 439.0 227.5 423.1 229.7 415.5 C231.9 407.9 233.0 403.8 235.6 399.8 C238.2 395.8 241.3 394.2 245.0 391.4 C248.7 388.6 254.3 385.5 258.0 383.0 C261.7 380.5 264.8 378.0 267.4 376.4 C270.0 374.8 270.8 372.8 273.9 373.6 C277.0 374.4 282.2 378.6 286.1 381.1 C290.0 383.6 294.2 386.9 297.3 388.6 C300.4 390.3 303.6 390.9 304.8 391.4" fill="none" stroke="#ff2020" stroke-width="1.5" stroke-dasharray="3 2" stroke-linejoin="round"/>
<path d="M46.0 393.5 C46.9 392.4 49.6 388.6 51.6 386.9 C53.6 385.1 55.6 382.1 58.1 383.0 C60.6 383.9 63.9 390.1 66.6 392.3 C69.2 394.5 70.9 395.7 74.0 396.4 C77.1 397.1 81.5 395.6 85.3 396.6 C89.0 397.6 93.1 400.0 96.5 402.4 C99.9 404.8 103.1 409.2 105.8 410.8 C108.5 412.4 110.2 410.4 112.4 411.8 C114.6 413.2 116.6 416.5 118.9 419.3 C121.2 422.1 124.5 425.8 126.4 428.6 C128.3 431.4 129.3 433.7 130.5 436.0 C131.7 438.3 132.3 444.2 133.5 442.6 C134.7 441.1 136.3 432.1 137.6 426.7 C138.8 421.3 140.0 414.7 141.0 410.0 C142.0 405.3 142.0 401.3 143.7 398.7 C145.4 396.1 148.7 395.3 151.2 394.6 C153.7 393.9 155.6 394.9 158.7 394.4 C161.8 393.9 166.2 393.9 169.9 391.6 C173.6 389.3 177.7 385.4 181.1 380.4 C184.5 375.4 188.0 366.1 190.5 361.7 C193.0 357.3 193.9 356.4 196.1 354.2 C198.3 352.0 201.4 351.4 203.6 348.6 C205.8 345.8 207.3 341.3 209.2 337.4 C211.1 333.5 212.9 326.4 214.8 325.2 C216.7 323.9 218.5 326.3 220.4 329.9 C222.3 333.5 224.1 340.5 226.0 346.7 C227.9 352.9 229.7 361.2 231.6 367.3 C233.5 373.4 235.0 379.0 237.5 383.0 C240.0 387.0 243.4 388.6 246.8 391.4 C250.2 394.2 254.2 397.0 258.0 399.8 C261.8 402.6 266.2 406.8 269.3 408.2 C272.4 409.6 273.9 409.3 276.7 408.2 C279.5 407.1 283.0 403.9 286.1 401.7 C289.2 399.5 292.3 396.7 295.4 395.1 C298.5 393.5 303.2 392.5 304.8 392.0" fill="none" stroke="#2020ff" stroke-width="1.5" stroke-dasharray="3 2" stroke-linejoin="round"/>
<line x1="242.7" y1="293.8" x2="269.6" y2="293.8" stroke="#ff2020" stroke-width="1.8" stroke-dasharray="3.7 2.2"/>
<text x="273" y="297.8" font-size="11.5" fill="#111">(<tspan font-style="italic">M</tspan>,<tspan font-style="italic">M</tspan>)-<tspan font-weight="bold" fill="#000">6-1</tspan></text>
<line x1="242.7" y1="310.0" x2="269.6" y2="310.0" stroke="#2020ff" stroke-width="1.8" stroke-dasharray="3.7 2.2"/>
<text x="273" y="314.0" font-size="11.5" fill="#111">(<tspan font-style="italic">P</tspan>,<tspan font-style="italic">P</tspan>)-<tspan font-weight="bold" fill="#000">6-1</tspan></text>
<line x1="242.7" y1="326.2" x2="269.6" y2="326.2" stroke="#12a4f4" stroke-width="1.8"/>
<text x="273" y="330.2" font-size="11.5" fill="#111">(<tspan font-style="italic">M</tspan>,<tspan font-style="italic">M</tspan>)-<tspan font-weight="bold" fill="#000">10</tspan></text>
<line x1="242.7" y1="342.4" x2="269.6" y2="342.4" stroke="#ff48ac" stroke-width="1.8"/>
<text x="273" y="346.4" font-size="11.5" fill="#111">(<tspan font-style="italic">P</tspan>,<tspan font-style="italic">P</tspan>)-<tspan font-weight="bold" fill="#000">10</tspan></text>
<text x="343.0" y="287.0" font-size="12.5" text-anchor="start" font-weight="bold" fill="#000">d</text>
<text x="394.7" y="295.0" font-size="10.5" text-anchor="middle" font-weight="bold" fill="#000">6-1</text>
<text x="626.0" y="295.5" font-size="11" text-anchor="middle" font-weight="bold" fill="#000">10</text>
<line x1="516.8" y1="322.0" x2="516.8" y2="507.2" stroke="#111" stroke-width="1.2"/>
<path d="M516.8 316 L514.5 324.5 L519.1 324.5 Z" fill="#111"/>
<line x1="513.5" y1="357.3" x2="519.5" y2="357.3" stroke="#111" stroke-width="1"/>
<text x="511.8" y="361.3" font-size="11.3" text-anchor="end" fill="#111">-2</text>
<line x1="513.5" y1="400.5" x2="519.5" y2="400.5" stroke="#111" stroke-width="1"/>
<text x="511.8" y="404.5" font-size="11.3" text-anchor="end" fill="#111">-3</text>
<line x1="513.5" y1="443.7" x2="519.5" y2="443.7" stroke="#111" stroke-width="1"/>
<text x="511.8" y="447.7" font-size="11.3" text-anchor="end" fill="#111">-4</text>
<line x1="513.5" y1="486.9" x2="519.5" y2="486.9" stroke="#111" stroke-width="1"/>
<text x="511.8" y="490.9" font-size="11.3" text-anchor="end" fill="#111">-5</text>
<line x1="515.0" y1="335.7" x2="518.5" y2="335.7" stroke="#111" stroke-width="1"/>
<line x1="515.0" y1="378.9" x2="518.5" y2="378.9" stroke="#111" stroke-width="1"/>
<line x1="515.0" y1="422.1" x2="518.5" y2="422.1" stroke="#111" stroke-width="1"/>
<line x1="515.0" y1="465.3" x2="518.5" y2="465.3" stroke="#111" stroke-width="1"/>
<line x1="455.9" y1="336.8" x2="469.0" y2="336.8" stroke="#000" stroke-width="2.2"/>
<line x1="455.9" y1="376.1" x2="469.0" y2="376.1" stroke="#000" stroke-width="2.2"/>
<line x1="455.9" y1="381.1" x2="469.0" y2="381.1" stroke="#ff1010" stroke-width="2.2"/>
<line x1="455.9" y1="467.8" x2="469.0" y2="467.8" stroke="#22a0f0" stroke-width="2.2"/>
<line x1="455.9" y1="479.9" x2="469.0" y2="479.9" stroke="#000" stroke-width="2.2"/>
<text x="434.5" y="340.3" font-size="11.3" text-anchor="start" fill="#111">L+2</text>
<text x="470.8" y="340.3" font-size="11.3" text-anchor="start" fill="#111">-1.53</text>
<text x="434.5" y="375.6" font-size="11.3" text-anchor="start" fill="#111">L+1</text>
<text x="470.8" y="375.6" font-size="11.3" text-anchor="start" fill="#111">-2.41</text>
<text x="434.5" y="387.8" font-size="11.3" text-anchor="start" fill="#111">L</text>
<text x="470.8" y="387.8" font-size="11.3" text-anchor="start" fill="#111">-2.58</text>
<text x="434.5" y="472.1" font-size="11.3" text-anchor="start" fill="#111">H</text>
<text x="470.8" y="472.1" font-size="11.3" text-anchor="start" fill="#111">-4.59</text>
<text x="434.5" y="484.4" font-size="11.3" text-anchor="start" fill="#111">H-1</text>
<text x="470.8" y="484.4" font-size="11.3" text-anchor="start" fill="#111">-4.82</text>
<line x1="554.2" y1="358.0" x2="567.3" y2="358.0" stroke="#000" stroke-width="2.2"/>
<line x1="554.2" y1="383.7" x2="567.3" y2="383.7" stroke="#000" stroke-width="2.2"/>
<line x1="554.2" y1="392.7" x2="567.3" y2="392.7" stroke="#ff1010" stroke-width="2.2"/>
<line x1="554.2" y1="469.1" x2="567.3" y2="469.1" stroke="#22a0f0" stroke-width="2.2"/>
<line x1="554.2" y1="480.4" x2="567.3" y2="480.4" stroke="#000" stroke-width="2.2"/>
<text x="550.3" y="361.2" font-size="11.3" text-anchor="end" fill="#111">-2.02</text>
<text x="571.0" y="361.2" font-size="11.3" text-anchor="start" fill="#111">L+2</text>
<text x="550.3" y="385.3" font-size="11.3" text-anchor="end" fill="#111">-2.65</text>
<text x="571.0" y="385.3" font-size="11.3" text-anchor="start" fill="#111">L+1</text>
<text x="550.3" y="396.6" font-size="11.3" text-anchor="end" fill="#111">-2.75</text>
<text x="571.0" y="396.6" font-size="11.3" text-anchor="start" fill="#111">L</text>
<text x="550.3" y="471.9" font-size="11.3" text-anchor="end" fill="#111">-4.68</text>
<text x="571.0" y="471.9" font-size="11.3" text-anchor="start" fill="#111">H</text>
<text x="550.3" y="484.4" font-size="11.3" text-anchor="end" fill="#111">-4.84</text>
<text x="571.0" y="484.4" font-size="11.3" text-anchor="start" fill="#111">H-1</text>
<line x1="462.5" y1="389.5" x2="462.5" y2="467.0" stroke="#111" stroke-width="1" stroke-dasharray="2.6 1.8"/>
<path d="M462.5 382.5 L459.9 390.5 L465.1 390.5 Z" fill="#111"/>
<line x1="560.9" y1="401.5" x2="560.9" y2="468.5" stroke="#111" stroke-width="1" stroke-dasharray="2.6 1.8"/>
<path d="M560.9 394.5 L558.3 402.5 L563.5 402.5 Z" fill="#111"/>
<text x="444.3" y="423.6" font-size="11.3" fill="#111">S<tspan font-size="8.5" dy="3">0</tspan></text>
<line x1="458.8" y1="419.6" x2="465.8" y2="419.6" stroke="#111" stroke-width="1"/>
<path d="M467.5 419.6 l-3 -2 l0 4 Z" fill="#111"/>
<text x="469.3" y="423.6" font-size="11.3" fill="#111">S<tspan font-size="8.5" dy="3">1</tspan></text>
<text x="543.0" y="434.4" font-size="11.3" fill="#111">S<tspan font-size="8.5" dy="3">0</tspan></text>
<line x1="557.5" y1="430.4" x2="564.5" y2="430.4" stroke="#111" stroke-width="1"/>
<path d="M566.2 430.4 l-3 -2 l0 4 Z" fill="#111"/>
<text x="568.0" y="434.4" font-size="11.3" fill="#111">S<tspan font-size="8.5" dy="3">1</tspan></text>
<text x="395.9" y="391.2" font-size="11.5" text-anchor="middle" fill="#111">LUMO</text>
<text x="396.0" y="527.6" font-size="11.5" text-anchor="middle" fill="#111">HOMO</text>
<text x="625.7" y="391.2" font-size="11.5" text-anchor="middle" fill="#111">LUMO</text>
<text x="625.4" y="526.8" font-size="11.5" text-anchor="middle" fill="#111">HOMO</text>
<polyline points="349.2,307.2 359.6,319.0" fill="none" stroke="#707070" stroke-width="1.0" stroke-linecap="round" stroke-linejoin="round"/>
<polyline points="350.5,306.3 360.8,318.0" fill="none" stroke="#707070" stroke-width="0.7" stroke-linecap="round" stroke-linejoin="round"/>
<polyline points="348.5,305.2 351.6,306.0" fill="none" stroke="#707070" stroke-width="0.9" stroke-linecap="round" stroke-linejoin="round"/>
<polyline points="348.5,305.2 347.7,308.3" fill="none" stroke="#707070" stroke-width="0.9" stroke-linecap="round" stroke-linejoin="round"/>
<polyline points="348.5,305.2 345.4,304.4" fill="none" stroke="#707070" stroke-width="0.9" stroke-linecap="round" stroke-linejoin="round"/>
<polyline points="348.5,305.2 349.3,302.1" fill="none" stroke="#707070" stroke-width="0.9" stroke-linecap="round" stroke-linejoin="round"/>
<polyline points="433.8,307.2 423.4,316.3" fill="none" stroke="#707070" stroke-width="1.0" stroke-linecap="round" stroke-linejoin="round"/>
<polyline points="432.6,306.0 422.3,315.2" fill="none" stroke="#707070" stroke-width="0.7" stroke-linecap="round" stroke-linejoin="round"/>
<polyline points="435.2,305.2 437.8,307.0" fill="none" stroke="#707070" stroke-width="0.9" stroke-linecap="round" stroke-linejoin="round"/>
<polyline points="435.2,305.2 433.4,307.8" fill="none" stroke="#707070" stroke-width="0.9" stroke-linecap="round" stroke-linejoin="round"/>
<polyline points="435.2,305.2 432.6,303.4" fill="none" stroke="#707070" stroke-width="0.9" stroke-linecap="round" stroke-linejoin="round"/>
<polyline points="435.2,305.2 437.0,302.6" fill="none" stroke="#707070" stroke-width="0.9" stroke-linecap="round" stroke-linejoin="round"/>
<polyline points="359.1,358.0 354.8,360.5 350.5,358.0 350.5,353.0 354.8,350.5 359.1,353.0 359.1,358.0" fill="none" stroke="#606060" stroke-width="1.2" stroke-linecap="round" stroke-linejoin="round"/>
<polyline points="359.1,353.0 364.0,348.0" fill="none" stroke="#707070" stroke-width="0.9" stroke-linecap="round" stroke-linejoin="round"/>
<circle cx="361.0" cy="359.1" r="0.9" fill="#8fd0e6"/>
<circle cx="354.8" cy="362.7" r="0.9" fill="#8fd0e6"/>
<circle cx="348.6" cy="359.1" r="0.9" fill="#8fd0e6"/>
<circle cx="348.6" cy="351.9" r="0.9" fill="#8fd0e6"/>
<circle cx="354.8" cy="348.3" r="0.9" fill="#8fd0e6"/>
<polyline points="421.4,345.8 436.5,360.9" fill="none" stroke="#707070" stroke-width="1.0" stroke-linecap="round" stroke-linejoin="round"/>
<polyline points="423.0,344.8 438.0,359.8" fill="none" stroke="#707070" stroke-width="0.8" stroke-linecap="round" stroke-linejoin="round"/>
<circle cx="425.3" cy="347.1" r="0.9" fill="#8fd0e6"/>
<circle cx="436.5" cy="362.2" r="0.9" fill="#8fd0e6"/>
<circle cx="433.2" cy="355.6" r="0.9" fill="#8fd0e6"/>
<polyline points="383.0,349.0 393.0,353.0 405.0,356.0" fill="none" stroke="#6a6a6a" stroke-width="0.8" stroke-linecap="round" stroke-linejoin="round"/>
<polyline points="386.0,356.0 395.0,351.0 403.0,348.0" fill="none" stroke="#6a6a6a" stroke-width="0.8" stroke-linecap="round" stroke-linejoin="round"/>
<polyline points="390.0,350.0 398.0,357.0" fill="none" stroke="#6a6a6a" stroke-width="0.8" stroke-linecap="round" stroke-linejoin="round"/>
<polyline points="380.0,352.0 395.0,355.0" fill="none" stroke="#6a6a6a" stroke-width="0.8" stroke-linecap="round" stroke-linejoin="round"/>
<polyline points="396.0,352.0 408.0,355.0" fill="none" stroke="#6a6a6a" stroke-width="0.8" stroke-linecap="round" stroke-linejoin="round"/>
<polyline points="392.0,347.0 392.0,358.0" fill="none" stroke="#6a6a6a" stroke-width="0.8" stroke-linecap="round" stroke-linejoin="round"/>
<polyline points="376.0,351.0 388.0,348.0" fill="none" stroke="#6a6a6a" stroke-width="0.8" stroke-linecap="round" stroke-linejoin="round"/>
<polyline points="372.0,350.0 381.0,357.0" fill="none" stroke="#6a6a6a" stroke-width="0.8" stroke-linecap="round" stroke-linejoin="round"/>
<polyline points="404.0,351.0 411.0,357.0" fill="none" stroke="#6a6a6a" stroke-width="0.8" stroke-linecap="round" stroke-linejoin="round"/>
<polyline points="386.0,353.0 400.0,353.0" fill="none" stroke="#6a6a6a" stroke-width="0.8" stroke-linecap="round" stroke-linejoin="round"/>
<polyline points="378.0,355.0 388.0,359.0" fill="none" stroke="#6a6a6a" stroke-width="0.8" stroke-linecap="round" stroke-linejoin="round"/>
<polyline points="398.0,359.0 406.0,354.0" fill="none" stroke="#6a6a6a" stroke-width="0.8" stroke-linecap="round" stroke-linejoin="round"/>
<polyline points="372.0,313.0 378.0,311.0 384.0,315.0" fill="none" stroke="#6a6a6a" stroke-width="0.8" stroke-linecap="round" stroke-linejoin="round"/>
<polyline points="398.0,315.0 404.0,311.0 410.0,313.0" fill="none" stroke="#6a6a6a" stroke-width="0.8" stroke-linecap="round" stroke-linejoin="round"/>
<polyline points="388.0,310.0 396.0,310.0" fill="none" stroke="#6a6a6a" stroke-width="0.8" stroke-linecap="round" stroke-linejoin="round"/>
<polyline points="392.0,307.0 392.0,314.0" fill="none" stroke="#6a6a6a" stroke-width="0.8" stroke-linecap="round" stroke-linejoin="round"/>
<polyline points="387.0,313.0 397.0,319.0" fill="none" stroke="#6a6a6a" stroke-width="0.8" stroke-linecap="round" stroke-linejoin="round"/>
<polyline points="397.0,313.0 387.0,319.0" fill="none" stroke="#6a6a6a" stroke-width="0.8" stroke-linecap="round" stroke-linejoin="round"/>
<polyline points="362.0,318.0 368.0,313.0" fill="none" stroke="#6a6a6a" stroke-width="0.8" stroke-linecap="round" stroke-linejoin="round"/>
<polyline points="420.0,313.0 426.0,319.0" fill="none" stroke="#6a6a6a" stroke-width="0.8" stroke-linecap="round" stroke-linejoin="round"/>
<polyline points="380.0,322.0 386.0,330.0 382.0,336.0" fill="none" stroke="#6a6a6a" stroke-width="0.8" stroke-linecap="round" stroke-linejoin="round"/>
<polyline points="404.0,322.0 398.0,330.0 402.0,336.0" fill="none" stroke="#6a6a6a" stroke-width="0.8" stroke-linecap="round" stroke-linejoin="round"/>
<polyline points="386.0,330.0 398.0,330.0" fill="none" stroke="#6a6a6a" stroke-width="0.8" stroke-linecap="round" stroke-linejoin="round"/>
<polyline points="366.0,345.0 372.0,352.0" fill="none" stroke="#6a6a6a" stroke-width="0.8" stroke-linecap="round" stroke-linejoin="round"/>
<polyline points="412.0,352.0 418.0,346.0" fill="none" stroke="#6a6a6a" stroke-width="0.8" stroke-linecap="round" stroke-linejoin="round"/>
<polyline points="372.0,352.0 378.0,354.0" fill="none" stroke="#6a6a6a" stroke-width="0.8" stroke-linecap="round" stroke-linejoin="round"/>
<polyline points="406.0,354.0 412.0,352.0" fill="none" stroke="#6a6a6a" stroke-width="0.8" stroke-linecap="round" stroke-linejoin="round"/>
<polyline points="375.0,309.0 375.0,305.0" fill="none" stroke="#6a6a6a" stroke-width="0.8" stroke-linecap="round" stroke-linejoin="round"/>
<polyline points="409.0,309.0 409.0,305.0" fill="none" stroke="#6a6a6a" stroke-width="0.8" stroke-linecap="round" stroke-linejoin="round"/>
<circle cx="391.3" cy="316.3" r="1.4" fill="#2a20b0"/>
<polyline points="372.0,318.0 370.0,321.5 366.0,321.5 364.0,318.0 366.0,314.5 370.0,314.5 372.0,318.0" fill="none" stroke="#7a7a7a" stroke-width="0.75" stroke-linecap="round" stroke-linejoin="round"/>
<polyline points="383.5,316.0 380.0,318.0 376.5,316.0 376.5,312.0 380.0,310.0 383.5,312.0 383.5,316.0" fill="none" stroke="#7a7a7a" stroke-width="0.75" stroke-linecap="round" stroke-linejoin="round"/>
<polyline points="407.5,316.0 404.0,318.0 400.5,316.0 400.5,312.0 404.0,310.0 407.5,312.0 407.5,316.0" fill="none" stroke="#7a7a7a" stroke-width="0.75" stroke-linecap="round" stroke-linejoin="round"/>
<polyline points="420.0,318.0 418.0,321.5 414.0,321.5 412.0,318.0 414.0,314.5 418.0,314.5 420.0,318.0" fill="none" stroke="#7a7a7a" stroke-width="0.75" stroke-linecap="round" stroke-linejoin="round"/>
<polyline points="380.0,328.0 378.0,331.5 374.0,331.5 372.0,328.0 374.0,324.5 378.0,324.5 380.0,328.0" fill="none" stroke="#7a7a7a" stroke-width="0.75" stroke-linecap="round" stroke-linejoin="round"/>
<polyline points="412.0,328.0 410.0,331.5 406.0,331.5 404.0,328.0 406.0,324.5 410.0,324.5 412.0,328.0" fill="none" stroke="#7a7a7a" stroke-width="0.75" stroke-linecap="round" stroke-linejoin="round"/>
<polyline points="395.5,328.0 392.0,330.0 388.5,328.0 388.5,324.0 392.0,322.0 395.5,324.0 395.5,328.0" fill="none" stroke="#7a7a7a" stroke-width="0.75" stroke-linecap="round" stroke-linejoin="round"/>
<polyline points="373.5,344.0 370.0,346.0 366.5,344.0 366.5,340.0 370.0,338.0 373.5,340.0 373.5,344.0" fill="none" stroke="#7a7a7a" stroke-width="0.75" stroke-linecap="round" stroke-linejoin="round"/>
<polyline points="417.5,344.0 414.0,346.0 410.5,344.0 410.5,340.0 414.0,338.0 417.5,340.0 417.5,344.0" fill="none" stroke="#7a7a7a" stroke-width="0.75" stroke-linecap="round" stroke-linejoin="round"/>
<polyline points="396.0,344.0 394.0,347.5 390.0,347.5 388.0,344.0 390.0,340.5 394.0,340.5 396.0,344.0" fill="none" stroke="#7a7a7a" stroke-width="0.75" stroke-linecap="round" stroke-linejoin="round"/>
<ellipse cx="374.0" cy="314.8" rx="2.8" ry="2.3" fill="url(#gb)" transform="rotate(0 374.0 314.8)"/>
<ellipse cx="374.6" cy="317.6" rx="2.5" ry="1.6" fill="url(#gy)" transform="rotate(0 374.6 317.6)"/>
<ellipse cx="384.3" cy="317.4" rx="3.0" ry="2.8" fill="url(#gy)" transform="rotate(0 384.3 317.4)"/>
<ellipse cx="361.0" cy="320.3" rx="3.3" ry="2.3" fill="url(#gb)" transform="rotate(0 361.0 320.3)"/>
<ellipse cx="366.8" cy="322.9" rx="5.1" ry="4.5" fill="url(#gy)" transform="rotate(0 366.8 322.9)"/>
<ellipse cx="364.9" cy="320.3" rx="2.3" ry="1.8" fill="url(#gb)" transform="rotate(0 364.9 320.3)"/>
<ellipse cx="376.9" cy="325.5" rx="2.8" ry="2.8" fill="url(#gb)" transform="rotate(0 376.9 325.5)"/>
<ellipse cx="380.6" cy="329.4" rx="2.3" ry="1.8" fill="url(#gy)" transform="rotate(0 380.6 329.4)"/>
<ellipse cx="383.9" cy="329.4" rx="1.8" ry="1.8" fill="url(#gb)" transform="rotate(0 383.9 329.4)"/>
<ellipse cx="389.5" cy="322.2" rx="2.8" ry="2.8" fill="url(#gb)" transform="rotate(0 389.5 322.2)"/>
<ellipse cx="389.8" cy="331.4" rx="2.3" ry="2.3" fill="url(#gy)" transform="rotate(0 389.8 331.4)"/>
<ellipse cx="358.3" cy="329.4" rx="6.0" ry="2.3" fill="url(#gy)" transform="rotate(5 358.3 329.4)"/>
<ellipse cx="361.0" cy="332.3" rx="7.2" ry="3.0" fill="url(#gb)" transform="rotate(5 361.0 332.3)"/>
<ellipse cx="368.2" cy="335.3" rx="2.3" ry="1.8" fill="url(#gb)" transform="rotate(0 368.2 335.3)"/>
<ellipse cx="358.3" cy="337.3" rx="4.5" ry="2.3" fill="url(#gb)" transform="rotate(0 358.3 337.3)"/>
<ellipse cx="359.6" cy="339.9" rx="6.8" ry="3.0" fill="url(#gy)" transform="rotate(0 359.6 339.9)"/>
<ellipse cx="368.8" cy="347.8" rx="5.3" ry="4.5" fill="url(#gb)" transform="rotate(0 368.8 347.8)"/>
<ellipse cx="374.7" cy="339.9" rx="3.0" ry="2.8" fill="url(#gb)" transform="rotate(0 374.7 339.9)"/>
<ellipse cx="377.3" cy="345.2" rx="3.3" ry="6.0" fill="url(#gy)" transform="rotate(0 377.3 345.2)"/>
<ellipse cx="384.5" cy="339.9" rx="4.5" ry="4.5" fill="url(#gy)" transform="rotate(0 384.5 339.9)"/>
<ellipse cx="387.2" cy="341.2" rx="4.5" ry="5.3" fill="url(#gb)" transform="rotate(0 387.2 341.2)"/>
<ellipse cx="375.4" cy="348.4" rx="1.8" ry="2.3" fill="url(#gb)" transform="rotate(0 375.4 348.4)"/>
<ellipse cx="398.5" cy="317.6" rx="3.3" ry="3.0" fill="url(#gy)" transform="rotate(0 398.5 317.6)"/>
<ellipse cx="409.0" cy="315.7" rx="3.3" ry="3.0" fill="url(#gb)" transform="rotate(0 409.0 315.7)"/>
<ellipse cx="392.6" cy="321.6" rx="4.5" ry="3.3" fill="url(#gb)" transform="rotate(0 392.6 321.6)"/>
<ellipse cx="416.8" cy="322.2" rx="5.3" ry="4.5" fill="url(#gy)" transform="rotate(0 416.8 322.2)"/>
<ellipse cx="416.8" cy="325.8" rx="3.8" ry="1.8" fill="url(#gb)" transform="rotate(0 416.8 325.8)"/>
<ellipse cx="405.0" cy="326.8" rx="3.0" ry="2.3" fill="url(#gb)" transform="rotate(0 405.0 326.8)"/>
<ellipse cx="401.1" cy="328.8" rx="3.0" ry="2.8" fill="url(#gy)" transform="rotate(0 401.1 328.8)"/>
<ellipse cx="393.2" cy="332.7" rx="2.3" ry="1.8" fill="url(#gb)" transform="rotate(0 393.2 332.7)"/>
<ellipse cx="423.4" cy="329.4" rx="7.5" ry="3.8" fill="url(#gb)" transform="rotate(-15 423.4 329.4)"/>
<ellipse cx="423.4" cy="336.0" rx="6.8" ry="3.8" fill="url(#gy)" transform="rotate(0 423.4 336.0)"/>
<ellipse cx="416.8" cy="333.4" rx="1.8" ry="1.8" fill="url(#gb)" transform="rotate(0 416.8 333.4)"/>
<ellipse cx="407.6" cy="342.5" rx="3.8" ry="6.8" fill="url(#gy)" transform="rotate(15 407.6 342.5)"/>
<ellipse cx="405.0" cy="345.2" rx="2.3" ry="6.0" fill="url(#gb)" transform="rotate(0 405.0 345.2)"/>
<ellipse cx="416.8" cy="345.2" rx="6.0" ry="6.8" fill="url(#gb)" transform="rotate(30 416.8 345.2)"/>
<ellipse cx="411.5" cy="346.5" rx="1.8" ry="3.8" fill="url(#gy)" transform="rotate(0 411.5 346.5)"/>
<ellipse cx="398.5" cy="339.9" rx="5.3" ry="5.3" fill="url(#gb)" transform="rotate(0 398.5 339.9)"/>
<ellipse cx="395.9" cy="342.5" rx="3.0" ry="3.0" fill="url(#gy)" transform="rotate(0 395.9 342.5)"/>
<ellipse cx="388.0" cy="341.2" rx="2.3" ry="3.8" fill="url(#gb)" transform="rotate(0 388.0 341.2)"/>
<polyline points="349.8,443.4 358.9,454.6" fill="none" stroke="#707070" stroke-width="1.0" stroke-linecap="round" stroke-linejoin="round"/>
<polyline points="351.0,442.6 360.0,453.6" fill="none" stroke="#707070" stroke-width="0.7" stroke-linecap="round" stroke-linejoin="round"/>
<polyline points="349.8,442.5 352.9,443.3" fill="none" stroke="#707070" stroke-width="0.9" stroke-linecap="round" stroke-linejoin="round"/>
<polyline points="349.8,442.5 349.0,445.6" fill="none" stroke="#707070" stroke-width="0.9" stroke-linecap="round" stroke-linejoin="round"/>
<polyline points="349.8,442.5 346.7,441.7" fill="none" stroke="#707070" stroke-width="0.9" stroke-linecap="round" stroke-linejoin="round"/>
<polyline points="349.8,442.5 350.6,439.4" fill="none" stroke="#707070" stroke-width="0.9" stroke-linecap="round" stroke-linejoin="round"/>
<polyline points="435.7,443.4 423.0,455.3" fill="none" stroke="#707070" stroke-width="1.0" stroke-linecap="round" stroke-linejoin="round"/>
<polyline points="434.5,442.3 422.0,454.2" fill="none" stroke="#707070" stroke-width="0.7" stroke-linecap="round" stroke-linejoin="round"/>
<polyline points="435.7,442.8 438.3,444.6" fill="none" stroke="#707070" stroke-width="0.9" stroke-linecap="round" stroke-linejoin="round"/>
<polyline points="435.7,442.8 433.9,445.4" fill="none" stroke="#707070" stroke-width="0.9" stroke-linecap="round" stroke-linejoin="round"/>
<polyline points="435.7,442.8 433.1,441.0" fill="none" stroke="#707070" stroke-width="0.9" stroke-linecap="round" stroke-linejoin="round"/>
<polyline points="435.7,442.8 437.5,440.2" fill="none" stroke="#707070" stroke-width="0.9" stroke-linecap="round" stroke-linejoin="round"/>
<polyline points="359.7,497.3 355.4,499.8 351.1,497.3 351.1,492.3 355.4,489.8 359.7,492.3 359.7,497.3" fill="none" stroke="#606060" stroke-width="1.2" stroke-linecap="round" stroke-linejoin="round"/>
<polyline points="359.7,492.3 364.0,487.0" fill="none" stroke="#707070" stroke-width="0.9" stroke-linecap="round" stroke-linejoin="round"/>
<circle cx="361.6" cy="498.4" r="0.9" fill="#8fd0e6"/>
<circle cx="355.4" cy="502.0" r="0.9" fill="#8fd0e6"/>
<circle cx="349.2" cy="498.4" r="0.9" fill="#8fd0e6"/>
<circle cx="349.2" cy="491.2" r="0.9" fill="#8fd0e6"/>
<circle cx="355.4" cy="487.6" r="0.9" fill="#8fd0e6"/>
<polyline points="425.8,485.5 436.4,498.8" fill="none" stroke="#707070" stroke-width="1.0" stroke-linecap="round" stroke-linejoin="round"/>
<polyline points="427.5,484.5 438.0,497.5" fill="none" stroke="#707070" stroke-width="0.8" stroke-linecap="round" stroke-linejoin="round"/>
<circle cx="437.8" cy="499.5" r="0.9" fill="#8fd0e6"/>
<circle cx="433.5" cy="492.5" r="0.9" fill="#8fd0e6"/>
<polyline points="383.0,486.0 393.0,491.0 405.0,495.0" fill="none" stroke="#6a6a6a" stroke-width="0.8" stroke-linecap="round" stroke-linejoin="round"/>
<polyline points="386.0,495.0 395.0,489.0 403.0,486.0" fill="none" stroke="#6a6a6a" stroke-width="0.8" stroke-linecap="round" stroke-linejoin="round"/>
<polyline points="390.0,488.0 398.0,496.0" fill="none" stroke="#6a6a6a" stroke-width="0.8" stroke-linecap="round" stroke-linejoin="round"/>
<polyline points="380.0,490.0 395.0,494.0" fill="none" stroke="#6a6a6a" stroke-width="0.8" stroke-linecap="round" stroke-linejoin="round"/>
<polyline points="396.0,490.0 408.0,494.0" fill="none" stroke="#6a6a6a" stroke-width="0.8" stroke-linecap="round" stroke-linejoin="round"/>
<polyline points="392.0,485.0 392.0,497.0" fill="none" stroke="#6a6a6a" stroke-width="0.8" stroke-linecap="round" stroke-linejoin="round"/>
<polyline points="376.0,490.0 388.0,487.0" fill="none" stroke="#6a6a6a" stroke-width="0.8" stroke-linecap="round" stroke-linejoin="round"/>
<polyline points="372.0,489.0 381.0,496.0" fill="none" stroke="#6a6a6a" stroke-width="0.8" stroke-linecap="round" stroke-linejoin="round"/>
<polyline points="404.0,490.0 411.0,496.0" fill="none" stroke="#6a6a6a" stroke-width="0.8" stroke-linecap="round" stroke-linejoin="round"/>
<polyline points="386.0,492.0 400.0,492.0" fill="none" stroke="#6a6a6a" stroke-width="0.8" stroke-linecap="round" stroke-linejoin="round"/>
<polyline points="378.0,494.0 388.0,498.0" fill="none" stroke="#6a6a6a" stroke-width="0.8" stroke-linecap="round" stroke-linejoin="round"/>
<polyline points="398.0,498.0 406.0,493.0" fill="none" stroke="#6a6a6a" stroke-width="0.8" stroke-linecap="round" stroke-linejoin="round"/>
<polyline points="372.0,452.0 381.0,449.0 386.0,455.0 384.0,467.0 378.0,468.0 373.0,462.0" fill="none" stroke="#6a6a6a" stroke-width="0.8" stroke-linecap="round" stroke-linejoin="round"/>
<polyline points="396.0,455.0 402.0,449.0 409.0,452.0 412.0,462.0 406.0,468.0 400.0,466.0" fill="none" stroke="#6a6a6a" stroke-width="0.8" stroke-linecap="round" stroke-linejoin="round"/>
<polyline points="362.0,459.0 368.0,453.0" fill="none" stroke="#6a6a6a" stroke-width="0.8" stroke-linecap="round" stroke-linejoin="round"/>
<polyline points="420.0,453.0 426.0,459.0" fill="none" stroke="#6a6a6a" stroke-width="0.8" stroke-linecap="round" stroke-linejoin="round"/>
<polyline points="356.0,469.0 358.0,476.0 364.0,478.0" fill="none" stroke="#6a6a6a" stroke-width="0.8" stroke-linecap="round" stroke-linejoin="round"/>
<polyline points="426.0,469.0 428.0,476.0 422.0,479.0" fill="none" stroke="#6a6a6a" stroke-width="0.8" stroke-linecap="round" stroke-linejoin="round"/>
<polyline points="372.0,488.0 378.0,492.0" fill="none" stroke="#6a6a6a" stroke-width="0.8" stroke-linecap="round" stroke-linejoin="round"/>
<polyline points="410.0,488.0 404.0,492.0" fill="none" stroke="#6a6a6a" stroke-width="0.8" stroke-linecap="round" stroke-linejoin="round"/>
<polyline points="366.0,487.0 372.0,489.0" fill="none" stroke="#6a6a6a" stroke-width="0.8" stroke-linecap="round" stroke-linejoin="round"/>
<polyline points="415.0,487.0 420.0,490.0" fill="none" stroke="#6a6a6a" stroke-width="0.8" stroke-linecap="round" stroke-linejoin="round"/>
<polyline points="384.0,468.0 386.0,474.0" fill="none" stroke="#6a6a6a" stroke-width="0.8" stroke-linecap="round" stroke-linejoin="round"/>
<polyline points="398.0,466.0 396.0,474.0" fill="none" stroke="#6a6a6a" stroke-width="0.8" stroke-linecap="round" stroke-linejoin="round"/>
<polyline points="372.0,457.0 370.0,460.5 366.0,460.5 364.0,457.0 366.0,453.5 370.0,453.5 372.0,457.0" fill="none" stroke="#7a7a7a" stroke-width="0.75" stroke-linecap="round" stroke-linejoin="round"/>
<polyline points="383.5,454.0 380.0,456.0 376.5,454.0 376.5,450.0 380.0,448.0 383.5,450.0 383.5,454.0" fill="none" stroke="#7a7a7a" stroke-width="0.75" stroke-linecap="round" stroke-linejoin="round"/>
<polyline points="407.5,454.0 404.0,456.0 400.5,454.0 400.5,450.0 404.0,448.0 407.5,450.0 407.5,454.0" fill="none" stroke="#7a7a7a" stroke-width="0.75" stroke-linecap="round" stroke-linejoin="round"/>
<polyline points="420.0,457.0 418.0,460.5 414.0,460.5 412.0,457.0 414.0,453.5 418.0,453.5 420.0,457.0" fill="none" stroke="#7a7a7a" stroke-width="0.75" stroke-linecap="round" stroke-linejoin="round"/>
<polyline points="380.0,468.0 378.0,471.5 374.0,471.5 372.0,468.0 374.0,464.5 378.0,464.5 380.0,468.0" fill="none" stroke="#7a7a7a" stroke-width="0.75" stroke-linecap="round" stroke-linejoin="round"/>
<polyline points="412.0,468.0 410.0,471.5 406.0,471.5 404.0,468.0 406.0,464.5 410.0,464.5 412.0,468.0" fill="none" stroke="#7a7a7a" stroke-width="0.75" stroke-linecap="round" stroke-linejoin="round"/>
<polyline points="395.5,468.0 392.0,470.0 388.5,468.0 388.5,464.0 392.0,462.0 395.5,464.0 395.5,468.0" fill="none" stroke="#7a7a7a" stroke-width="0.75" stroke-linecap="round" stroke-linejoin="round"/>
<polyline points="373.5,484.0 370.0,486.0 366.5,484.0 366.5,480.0 370.0,478.0 373.5,480.0 373.5,484.0" fill="none" stroke="#7a7a7a" stroke-width="0.75" stroke-linecap="round" stroke-linejoin="round"/>
<polyline points="417.5,484.0 414.0,486.0 410.5,484.0 410.5,480.0 414.0,478.0 417.5,480.0 417.5,484.0" fill="none" stroke="#7a7a7a" stroke-width="0.75" stroke-linecap="round" stroke-linejoin="round"/>
<polyline points="396.0,484.0 394.0,487.5 390.0,487.5 388.0,484.0 390.0,480.5 394.0,480.5 396.0,484.0" fill="none" stroke="#7a7a7a" stroke-width="0.75" stroke-linecap="round" stroke-linejoin="round"/>
<ellipse cx="365.9" cy="465.1" rx="4.2" ry="6.4" fill="url(#gy)" transform="rotate(0 365.9 465.1)"/>
<ellipse cx="362.4" cy="464.4" rx="2.0" ry="5.0" fill="url(#gb)" transform="rotate(0 362.4 464.4)"/>
<ellipse cx="365.2" cy="459.5" rx="3.1" ry="1.9" fill="url(#gb)" transform="rotate(0 365.2 459.5)"/>
<ellipse cx="374.8" cy="461.6" rx="4.1" ry="5.3" fill="url(#gb)" transform="rotate(-20 374.8 461.6)"/>
<ellipse cx="382.0" cy="453.2" rx="2.5" ry="4.3" fill="url(#gy)" transform="rotate(-15 382.0 453.2)"/>
<ellipse cx="386.3" cy="460.9" rx="5.0" ry="4.2" fill="url(#gy)" transform="rotate(0 386.3 460.9)"/>
<ellipse cx="389.8" cy="454.6" rx="3.4" ry="3.6" fill="url(#gb)" transform="rotate(0 389.8 454.6)"/>
<ellipse cx="389.0" cy="448.3" rx="2.0" ry="1.3" fill="url(#gb)" transform="rotate(0 389.0 448.3)"/>
<ellipse cx="368.7" cy="472.8" rx="3.4" ry="2.5" fill="url(#gb)" transform="rotate(0 368.7 472.8)"/>
<ellipse cx="356.8" cy="472.8" rx="2.2" ry="4.2" fill="url(#gy)" transform="rotate(0 356.8 472.8)"/>
<ellipse cx="358.4" cy="475.0" rx="1.8" ry="3.1" fill="url(#gb)" transform="rotate(0 358.4 475.0)"/>
<ellipse cx="365.2" cy="482.0" rx="5.0" ry="5.4" fill="url(#gy)" transform="rotate(0 365.2 482.0)"/>
<ellipse cx="361.7" cy="480.6" rx="2.0" ry="4.3" fill="url(#gb)" transform="rotate(0 361.7 480.6)"/>
<ellipse cx="372.5" cy="479.1" rx="2.5" ry="4.2" fill="url(#gy)" transform="rotate(0 372.5 479.1)"/>
<ellipse cx="374.3" cy="481.3" rx="4.0" ry="4.6" fill="url(#gb)" transform="rotate(0 374.3 481.3)"/>
<ellipse cx="382.0" cy="477.0" rx="4.7" ry="2.5" fill="url(#gb)" transform="rotate(-10 382.0 477.0)"/>
<ellipse cx="384.1" cy="481.5" rx="5.9" ry="4.7" fill="url(#gy)" transform="rotate(-15 384.1 481.5)"/>
<ellipse cx="388.4" cy="472.1" rx="4.2" ry="2.5" fill="url(#gb)" transform="rotate(0 388.4 472.1)"/>
<ellipse cx="373.0" cy="489.0" rx="1.7" ry="1.3" fill="url(#gb)" transform="rotate(0 373.0 489.0)"/>
<ellipse cx="357.1" cy="487.6" rx="1.7" ry="1.3" fill="url(#gy)" transform="rotate(0 357.1 487.6)"/>
<ellipse cx="361.0" cy="491.1" rx="1.3" ry="1.3" fill="url(#gb)" transform="rotate(0 361.0 491.1)"/>
<ellipse cx="395.2" cy="467.2" rx="2.6" ry="1.7" fill="url(#gy)" transform="rotate(0 395.2 467.2)"/>
<ellipse cx="401.3" cy="453.2" rx="2.5" ry="5.9" fill="url(#gy)" transform="rotate(30 401.3 453.2)"/>
<ellipse cx="390.8" cy="453.2" rx="3.7" ry="4.2" fill="url(#gb)" transform="rotate(0 390.8 453.2)"/>
<ellipse cx="397.8" cy="460.2" rx="4.2" ry="3.4" fill="url(#gy)" transform="rotate(0 397.8 460.2)"/>
<ellipse cx="394.3" cy="463.7" rx="3.4" ry="2.5" fill="url(#gy)" transform="rotate(0 394.3 463.7)"/>
<ellipse cx="408.3" cy="459.5" rx="4.2" ry="6.7" fill="url(#gb)" transform="rotate(20 408.3 459.5)"/>
<ellipse cx="418.8" cy="462.3" rx="4.7" ry="6.7" fill="url(#gy)" transform="rotate(0 418.8 462.3)"/>
<ellipse cx="417.4" cy="469.3" rx="3.7" ry="3.0" fill="url(#gb)" transform="rotate(0 417.4 469.3)"/>
<ellipse cx="426.5" cy="471.4" rx="2.5" ry="4.2" fill="url(#gb)" transform="rotate(0 426.5 471.4)"/>
<ellipse cx="425.8" cy="473.5" rx="1.4" ry="1.9" fill="url(#gy)" transform="rotate(0 425.8 473.5)"/>
<ellipse cx="395.0" cy="469.3" rx="7.6" ry="3.4" fill="url(#gb)" transform="rotate(-20 395.0 469.3)"/>
<ellipse cx="420.2" cy="479.8" rx="5.0" ry="5.0" fill="url(#gy)" transform="rotate(0 420.2 479.8)"/>
<ellipse cx="416.0" cy="483.4" rx="3.4" ry="3.0" fill="url(#gb)" transform="rotate(0 416.0 483.4)"/>
<ellipse cx="410.4" cy="478.4" rx="4.2" ry="4.2" fill="url(#gb)" transform="rotate(0 410.4 478.4)"/>
<ellipse cx="402.0" cy="478.4" rx="5.9" ry="4.2" fill="url(#gy)" transform="rotate(20 402.0 478.4)"/>
<ellipse cx="403.4" cy="482.0" rx="5.0" ry="2.0" fill="url(#gb)" transform="rotate(20 403.4 482.0)"/>
<ellipse cx="409.0" cy="482.6" rx="2.5" ry="2.0" fill="url(#gy)" transform="rotate(0 409.0 482.6)"/>
<ellipse cx="412.5" cy="486.9" rx="2.0" ry="1.7" fill="url(#gb)" transform="rotate(0 412.5 486.9)"/>
<ellipse cx="423.7" cy="489.7" rx="2.0" ry="1.7" fill="url(#gy)" transform="rotate(0 423.7 489.7)"/>
<ellipse cx="427.2" cy="485.5" rx="2.0" ry="1.7" fill="url(#gb)" transform="rotate(0 427.2 485.5)"/>
<polyline points="594.4,304.7 597.9,306.7" fill="none" stroke="#707070" stroke-width="0.9" stroke-linecap="round" stroke-linejoin="round"/>
<polyline points="594.4,304.7 592.4,308.2" fill="none" stroke="#707070" stroke-width="0.9" stroke-linecap="round" stroke-linejoin="round"/>
<polyline points="594.4,304.7 590.9,302.7" fill="none" stroke="#707070" stroke-width="0.9" stroke-linecap="round" stroke-linejoin="round"/>
<polyline points="594.4,304.7 596.4,301.2" fill="none" stroke="#707070" stroke-width="0.9" stroke-linecap="round" stroke-linejoin="round"/>
<polyline points="589.4,303.2 592.2,303.7" fill="none" stroke="#707070" stroke-width="0.9" stroke-linecap="round" stroke-linejoin="round"/>
<polyline points="589.4,303.2 587.6,305.3" fill="none" stroke="#707070" stroke-width="0.9" stroke-linecap="round" stroke-linejoin="round"/>
<polyline points="589.4,303.2 588.4,300.6" fill="none" stroke="#707070" stroke-width="0.9" stroke-linecap="round" stroke-linejoin="round"/>
<polyline points="598.9,300.2 599.9,302.8" fill="none" stroke="#707070" stroke-width="0.9" stroke-linecap="round" stroke-linejoin="round"/>
<polyline points="598.9,300.2 596.1,299.7" fill="none" stroke="#707070" stroke-width="0.9" stroke-linecap="round" stroke-linejoin="round"/>
<polyline points="598.9,300.2 600.7,298.1" fill="none" stroke="#707070" stroke-width="0.9" stroke-linecap="round" stroke-linejoin="round"/>
<polyline points="595.4,308.7 595.0,311.2" fill="none" stroke="#707070" stroke-width="0.9" stroke-linecap="round" stroke-linejoin="round"/>
<polyline points="595.4,308.7 593.5,307.1" fill="none" stroke="#707070" stroke-width="0.9" stroke-linecap="round" stroke-linejoin="round"/>
<polyline points="595.4,308.7 597.7,307.8" fill="none" stroke="#707070" stroke-width="0.9" stroke-linecap="round" stroke-linejoin="round"/>
<polyline points="594.4,304.7 598.2,310.0 603.4,314.4 606.4,310.0" fill="none" stroke="#707070" stroke-width="0.9" stroke-linecap="round" stroke-linejoin="round"/>
<circle cx="598.2" cy="310.0" r="1.1" fill="#e02020"/>
<circle cx="606.4" cy="310.0" r="1.1" fill="#e02020"/>
<circle cx="604.9" cy="316.7" r="1.1" fill="#2030c0"/>
<polyline points="646.7,301.7 650.2,303.7" fill="none" stroke="#707070" stroke-width="0.9" stroke-linecap="round" stroke-linejoin="round"/>
<polyline points="646.7,301.7 644.7,305.2" fill="none" stroke="#707070" stroke-width="0.9" stroke-linecap="round" stroke-linejoin="round"/>
<polyline points="646.7,301.7 643.2,299.7" fill="none" stroke="#707070" stroke-width="0.9" stroke-linecap="round" stroke-linejoin="round"/>
<polyline points="646.7,301.7 648.7,298.2" fill="none" stroke="#707070" stroke-width="0.9" stroke-linecap="round" stroke-linejoin="round"/>
<polyline points="641.7,300.2 644.5,300.7" fill="none" stroke="#707070" stroke-width="0.9" stroke-linecap="round" stroke-linejoin="round"/>
<polyline points="641.7,300.2 639.9,302.3" fill="none" stroke="#707070" stroke-width="0.9" stroke-linecap="round" stroke-linejoin="round"/>
<polyline points="641.7,300.2 640.7,297.6" fill="none" stroke="#707070" stroke-width="0.9" stroke-linecap="round" stroke-linejoin="round"/>
<polyline points="651.2,297.2 652.2,299.8" fill="none" stroke="#707070" stroke-width="0.9" stroke-linecap="round" stroke-linejoin="round"/>
<polyline points="651.2,297.2 648.4,296.7" fill="none" stroke="#707070" stroke-width="0.9" stroke-linecap="round" stroke-linejoin="round"/>
<polyline points="651.2,297.2 653.0,295.1" fill="none" stroke="#707070" stroke-width="0.9" stroke-linecap="round" stroke-linejoin="round"/>
<polyline points="647.7,305.7 647.3,308.2" fill="none" stroke="#707070" stroke-width="0.9" stroke-linecap="round" stroke-linejoin="round"/>
<polyline points="647.7,305.7 645.8,304.1" fill="none" stroke="#707070" stroke-width="0.9" stroke-linecap="round" stroke-linejoin="round"/>
<polyline points="647.7,305.7 650.0,304.8" fill="none" stroke="#707070" stroke-width="0.9" stroke-linecap="round" stroke-linejoin="round"/>
<polyline points="646.7,301.7 644.4,307.7 646.7,313.0 651.9,310.7" fill="none" stroke="#707070" stroke-width="0.9" stroke-linecap="round" stroke-linejoin="round"/>
<circle cx="644.4" cy="307.7" r="1.1" fill="#e02020"/>
<circle cx="651.9" cy="310.7" r="1.1" fill="#e02020"/>
<circle cx="644.4" cy="316.0" r="1.1" fill="#2030c0"/>
<polyline points="571.0,335.4 592.0,335.4" fill="none" stroke="#707070" stroke-width="1.0" stroke-linecap="round" stroke-linejoin="round"/>
<polyline points="573.0,332.9 589.0,332.9" fill="none" stroke="#707070" stroke-width="0.8" stroke-linecap="round" stroke-linejoin="round"/>
<polyline points="573.0,337.9 589.0,337.9" fill="none" stroke="#707070" stroke-width="0.8" stroke-linecap="round" stroke-linejoin="round"/>
<polyline points="571.0,335.4 573.3,337.7" fill="none" stroke="#707070" stroke-width="0.9" stroke-linecap="round" stroke-linejoin="round"/>
<polyline points="571.0,335.4 568.7,337.7" fill="none" stroke="#707070" stroke-width="0.9" stroke-linecap="round" stroke-linejoin="round"/>
<polyline points="571.0,335.4 568.7,333.1" fill="none" stroke="#707070" stroke-width="0.9" stroke-linecap="round" stroke-linejoin="round"/>
<polyline points="571.0,335.4 573.3,333.1" fill="none" stroke="#707070" stroke-width="0.9" stroke-linecap="round" stroke-linejoin="round"/>
<polyline points="661.0,335.4 680.0,339.6" fill="none" stroke="#707070" stroke-width="1.0" stroke-linecap="round" stroke-linejoin="round"/>
<polyline points="663.0,332.9 677.0,337.1" fill="none" stroke="#707070" stroke-width="0.8" stroke-linecap="round" stroke-linejoin="round"/>
<polyline points="663.0,337.9 677.0,342.1" fill="none" stroke="#707070" stroke-width="0.8" stroke-linecap="round" stroke-linejoin="round"/>
<polyline points="680.0,339.6 682.3,341.9" fill="none" stroke="#707070" stroke-width="0.9" stroke-linecap="round" stroke-linejoin="round"/>
<polyline points="680.0,339.6 677.7,341.9" fill="none" stroke="#707070" stroke-width="0.9" stroke-linecap="round" stroke-linejoin="round"/>
<polyline points="680.0,339.6 677.7,337.3" fill="none" stroke="#707070" stroke-width="0.9" stroke-linecap="round" stroke-linejoin="round"/>
<polyline points="680.0,339.6 682.3,337.3" fill="none" stroke="#707070" stroke-width="0.9" stroke-linecap="round" stroke-linejoin="round"/>
<polyline points="614.2,347.4 615.4,354.0" fill="none" stroke="#707070" stroke-width="1.0" stroke-linecap="round" stroke-linejoin="round"/>
<polyline points="613.2,355.4 615.4,353.4 618.0,355.4 619.5,365.4 617.6,367.9 614.7,365.4 613.2,355.4" fill="none" stroke="#6a6a6a" stroke-width="0.9" stroke-linecap="round" stroke-linejoin="round"/>
<polyline points="615.4,353.4 617.6,367.9" fill="none" stroke="#6a6a6a" stroke-width="0.7" stroke-linecap="round" stroke-linejoin="round"/>
<circle cx="611.7" cy="355.4" r="0.9" fill="#8fd0e6"/>
<circle cx="619.5" cy="355.4" r="0.9" fill="#8fd0e6"/>
<circle cx="621.0" cy="365.4" r="0.9" fill="#8fd0e6"/>
<circle cx="613.2" cy="365.4" r="0.9" fill="#8fd0e6"/>
<circle cx="617.6" cy="369.4" r="0.9" fill="#8fd0e6"/>
<polyline points="636.0,347.4 634.8,353.7" fill="none" stroke="#707070" stroke-width="1.0" stroke-linecap="round" stroke-linejoin="round"/>
<polyline points="632.6,354.9 635.4,352.9 637.4,354.9 636.3,364.9 633.6,367.4 631.5,364.9 632.6,354.9" fill="none" stroke="#6a6a6a" stroke-width="0.9" stroke-linecap="round" stroke-linejoin="round"/>
<polyline points="635.4,352.9 633.6,367.4" fill="none" stroke="#6a6a6a" stroke-width="0.7" stroke-linecap="round" stroke-linejoin="round"/>
<circle cx="631.1" cy="354.9" r="0.9" fill="#8fd0e6"/>
<circle cx="638.9" cy="354.9" r="0.9" fill="#8fd0e6"/>
<circle cx="637.8" cy="364.9" r="0.9" fill="#8fd0e6"/>
<circle cx="630.0" cy="364.9" r="0.9" fill="#8fd0e6"/>
<circle cx="633.6" cy="368.9" r="0.9" fill="#8fd0e6"/>
<polyline points="598.0,318.0 604.0,314.0 611.0,316.0 614.0,322.0 610.0,328.0 603.0,328.0 598.0,324.0" fill="none" stroke="#6a6a6a" stroke-width="0.8" stroke-linecap="round" stroke-linejoin="round"/>
<polyline points="630.0,318.0 637.0,314.0 644.0,316.0 648.0,322.0 645.0,328.0 638.0,329.0" fill="none" stroke="#6a6a6a" stroke-width="0.8" stroke-linecap="round" stroke-linejoin="round"/>
<polyline points="595.0,326.0 591.0,333.0" fill="none" stroke="#6a6a6a" stroke-width="0.8" stroke-linecap="round" stroke-linejoin="round"/>
<polyline points="656.0,326.0 660.0,333.0" fill="none" stroke="#6a6a6a" stroke-width="0.8" stroke-linecap="round" stroke-linejoin="round"/>
<polyline points="601.0,344.0 596.0,349.0" fill="none" stroke="#6a6a6a" stroke-width="0.8" stroke-linecap="round" stroke-linejoin="round"/>
<polyline points="608.0,348.0 603.0,352.0" fill="none" stroke="#6a6a6a" stroke-width="0.8" stroke-linecap="round" stroke-linejoin="round"/>
<polyline points="645.0,347.0 650.0,351.0" fill="none" stroke="#6a6a6a" stroke-width="0.8" stroke-linecap="round" stroke-linejoin="round"/>
<polyline points="653.0,346.0 658.0,350.0" fill="none" stroke="#6a6a6a" stroke-width="0.8" stroke-linecap="round" stroke-linejoin="round"/>
<polyline points="614.0,330.0 620.0,333.0 626.0,331.0 632.0,333.0 638.0,331.0" fill="none" stroke="#6a6a6a" stroke-width="0.8" stroke-linecap="round" stroke-linejoin="round"/>
<polyline points="612.0,340.0 618.0,346.0" fill="none" stroke="#6a6a6a" stroke-width="0.8" stroke-linecap="round" stroke-linejoin="round"/>
<polyline points="640.0,340.0 634.0,346.0" fill="none" stroke="#6a6a6a" stroke-width="0.8" stroke-linecap="round" stroke-linejoin="round"/>
<polyline points="623.0,314.0 627.0,318.0 631.0,314.0" fill="none" stroke="#6a6a6a" stroke-width="0.8" stroke-linecap="round" stroke-linejoin="round"/>
<polyline points="623.0,309.0 623.0,314.0" fill="none" stroke="#6a6a6a" stroke-width="0.8" stroke-linecap="round" stroke-linejoin="round"/>
<polyline points="605.5,322.0 602.0,324.0 598.5,322.0 598.5,318.0 602.0,316.0 605.5,318.0 605.5,322.0" fill="none" stroke="#7a7a7a" stroke-width="0.75" stroke-linecap="round" stroke-linejoin="round"/>
<polyline points="616.0,318.0 614.0,321.5 610.0,321.5 608.0,318.0 610.0,314.5 614.0,314.5 616.0,318.0" fill="none" stroke="#7a7a7a" stroke-width="0.75" stroke-linecap="round" stroke-linejoin="round"/>
<polyline points="625.5,322.0 622.0,324.0 618.5,322.0 618.5,318.0 622.0,316.0 625.5,318.0 625.5,322.0" fill="none" stroke="#7a7a7a" stroke-width="0.75" stroke-linecap="round" stroke-linejoin="round"/>
<polyline points="643.5,322.0 640.0,324.0 636.5,322.0 636.5,318.0 640.0,316.0 643.5,318.0 643.5,322.0" fill="none" stroke="#7a7a7a" stroke-width="0.75" stroke-linecap="round" stroke-linejoin="round"/>
<polyline points="654.0,320.0 652.0,323.5 648.0,323.5 646.0,320.0 648.0,316.5 652.0,316.5 654.0,320.0" fill="none" stroke="#7a7a7a" stroke-width="0.75" stroke-linecap="round" stroke-linejoin="round"/>
<polyline points="602.0,334.0 600.0,337.5 596.0,337.5 594.0,334.0 596.0,330.5 600.0,330.5 602.0,334.0" fill="none" stroke="#7a7a7a" stroke-width="0.75" stroke-linecap="round" stroke-linejoin="round"/>
<polyline points="658.0,334.0 656.0,337.5 652.0,337.5 650.0,334.0 652.0,330.5 656.0,330.5 658.0,334.0" fill="none" stroke="#7a7a7a" stroke-width="0.75" stroke-linecap="round" stroke-linejoin="round"/>
<polyline points="613.5,340.0 610.0,342.0 606.5,340.0 606.5,336.0 610.0,334.0 613.5,336.0 613.5,340.0" fill="none" stroke="#7a7a7a" stroke-width="0.75" stroke-linecap="round" stroke-linejoin="round"/>
<polyline points="645.5,340.0 642.0,342.0 638.5,340.0 638.5,336.0 642.0,334.0 645.5,336.0 645.5,340.0" fill="none" stroke="#7a7a7a" stroke-width="0.75" stroke-linecap="round" stroke-linejoin="round"/>
<polyline points="630.0,332.0 628.0,335.5 624.0,335.5 622.0,332.0 624.0,328.5 628.0,328.5 630.0,332.0" fill="none" stroke="#7a7a7a" stroke-width="0.75" stroke-linecap="round" stroke-linejoin="round"/>
<polyline points="587.5,337.0 584.0,339.0 580.5,337.0 580.5,333.0 584.0,331.0 587.5,333.0 587.5,337.0" fill="none" stroke="#7a7a7a" stroke-width="0.75" stroke-linecap="round" stroke-linejoin="round"/>
<polyline points="670.5,338.0 667.0,340.0 663.5,338.0 663.5,334.0 667.0,332.0 670.5,334.0 670.5,338.0" fill="none" stroke="#7a7a7a" stroke-width="0.75" stroke-linecap="round" stroke-linejoin="round"/>
<polyline points="599.1,327.8 596.0,329.6 592.9,327.8 592.9,324.2 596.0,322.4 599.1,324.2 599.1,327.8" fill="none" stroke="#7a7a7a" stroke-width="0.7" stroke-linecap="round" stroke-linejoin="round"/>
<polyline points="609.6,324.0 607.8,327.1 604.2,327.1 602.4,324.0 604.2,320.9 607.8,320.9 609.6,324.0" fill="none" stroke="#7a7a7a" stroke-width="0.7" stroke-linecap="round" stroke-linejoin="round"/>
<polyline points="621.1,315.8 618.0,317.6 614.9,315.8 614.9,312.2 618.0,310.4 621.1,312.2 621.1,315.8" fill="none" stroke="#7a7a7a" stroke-width="0.7" stroke-linecap="round" stroke-linejoin="round"/>
<polyline points="637.1,315.8 634.0,317.6 630.9,315.8 630.9,312.2 634.0,310.4 637.1,312.2 637.1,315.8" fill="none" stroke="#7a7a7a" stroke-width="0.7" stroke-linecap="round" stroke-linejoin="round"/>
<polyline points="649.1,327.8 646.0,329.6 642.9,327.8 642.9,324.2 646.0,322.4 649.1,324.2 649.1,327.8" fill="none" stroke="#7a7a7a" stroke-width="0.7" stroke-linecap="round" stroke-linejoin="round"/>
<polyline points="659.6,328.0 657.8,331.1 654.2,331.1 652.4,328.0 654.2,324.9 657.8,324.9 659.6,328.0" fill="none" stroke="#7a7a7a" stroke-width="0.7" stroke-linecap="round" stroke-linejoin="round"/>
<polyline points="621.1,345.8 618.0,347.6 614.9,345.8 614.9,342.2 618.0,340.4 621.1,342.2 621.1,345.8" fill="none" stroke="#7a7a7a" stroke-width="0.7" stroke-linecap="round" stroke-linejoin="round"/>
<polyline points="637.1,345.8 634.0,347.6 630.9,345.8 630.9,342.2 634.0,340.4 637.1,342.2 637.1,345.8" fill="none" stroke="#7a7a7a" stroke-width="0.7" stroke-linecap="round" stroke-linejoin="round"/>
<polyline points="615.6,330.0 613.8,333.1 610.2,333.1 608.4,330.0 610.2,326.9 613.8,326.9 615.6,330.0" fill="none" stroke="#7a7a7a" stroke-width="0.7" stroke-linecap="round" stroke-linejoin="round"/>
<polyline points="643.6,330.0 641.8,333.1 638.2,333.1 636.4,330.0 638.2,326.9 641.8,326.9 643.6,330.0" fill="none" stroke="#7a7a7a" stroke-width="0.7" stroke-linecap="round" stroke-linejoin="round"/>
<ellipse cx="602.2" cy="319.2" rx="2.6" ry="1.9" fill="url(#gb)" transform="rotate(0 602.2 319.2)"/>
<ellipse cx="602.2" cy="321.9" rx="2.4" ry="1.9" fill="url(#gy)" transform="rotate(0 602.2 321.9)"/>
<ellipse cx="612.4" cy="316.0" rx="2.6" ry="2.1" fill="url(#gy)" transform="rotate(0 612.4 316.0)"/>
<ellipse cx="610.9" cy="319.7" rx="3.2" ry="3.2" fill="url(#gb)" transform="rotate(0 610.9 319.7)"/>
<ellipse cx="595.2" cy="324.2" rx="2.6" ry="2.1" fill="url(#gb)" transform="rotate(0 595.2 324.2)"/>
<ellipse cx="597.4" cy="323.0" rx="1.8" ry="1.7" fill="url(#gy)" transform="rotate(0 597.4 323.0)"/>
<ellipse cx="604.2" cy="328.7" rx="2.6" ry="2.6" fill="url(#gb)" transform="rotate(0 604.2 328.7)"/>
<ellipse cx="620.6" cy="317.4" rx="3.5" ry="2.6" fill="url(#gb)" transform="rotate(0 620.6 317.4)"/>
<ellipse cx="619.9" cy="321.2" rx="3.9" ry="2.6" fill="url(#gy)" transform="rotate(0 619.9 321.2)"/>
<ellipse cx="616.9" cy="324.2" rx="2.6" ry="2.1" fill="url(#gb)" transform="rotate(0 616.9 324.2)"/>
<ellipse cx="616.1" cy="327.9" rx="3.9" ry="3.5" fill="url(#gy)" transform="rotate(0 616.1 327.9)"/>
<ellipse cx="623.6" cy="327.9" rx="4.4" ry="4.4" fill="url(#gb)" transform="rotate(0 623.6 327.9)"/>
<ellipse cx="595.2" cy="330.0" rx="2.6" ry="2.6" fill="url(#gb)" transform="rotate(0 595.2 330.0)"/>
<ellipse cx="595.9" cy="333.0" rx="3.9" ry="5.7" fill="url(#gy)" transform="rotate(0 595.9 333.0)"/>
<ellipse cx="601.2" cy="339.6" rx="7.7" ry="3.5" fill="url(#gb)" transform="rotate(-5 601.2 339.6)"/>
<ellipse cx="605.7" cy="344.4" rx="5.3" ry="2.6" fill="url(#gy)" transform="rotate(-15 605.7 344.4)"/>
<ellipse cx="598.2" cy="343.6" rx="3.9" ry="2.6" fill="url(#gb)" transform="rotate(0 598.2 343.6)"/>
<ellipse cx="606.4" cy="348.1" rx="6.1" ry="3.2" fill="url(#gy)" transform="rotate(-10 606.4 348.1)"/>
<ellipse cx="618.4" cy="336.9" rx="4.4" ry="3.5" fill="url(#gb)" transform="rotate(0 618.4 336.9)"/>
<ellipse cx="622.9" cy="337.6" rx="3.5" ry="4.4" fill="url(#gy)" transform="rotate(0 622.9 337.6)"/>
<ellipse cx="618.4" cy="342.9" rx="4.4" ry="3.2" fill="url(#gb)" transform="rotate(0 618.4 342.9)"/>
<ellipse cx="647.4" cy="318.2" rx="2.6" ry="2.6" fill="url(#gy)" transform="rotate(0 647.4 318.2)"/>
<ellipse cx="654.2" cy="323.4" rx="3.5" ry="3.2" fill="url(#gb)" transform="rotate(0 654.2 323.4)"/>
<ellipse cx="648.9" cy="323.4" rx="1.9" ry="1.9" fill="url(#gb)" transform="rotate(0 648.9 323.4)"/>
<ellipse cx="644.4" cy="327.9" rx="2.6" ry="2.6" fill="url(#gb)" transform="rotate(0 644.4 327.9)"/>
<ellipse cx="654.9" cy="332.4" rx="5.0" ry="5.0" fill="url(#gy)" transform="rotate(0 654.9 332.4)"/>
<ellipse cx="651.9" cy="335.6" rx="2.6" ry="2.1" fill="url(#gb)" transform="rotate(0 651.9 335.6)"/>
<ellipse cx="639.2" cy="330.2" rx="2.1" ry="3.2" fill="url(#gb)" transform="rotate(0 639.2 330.2)"/>
<ellipse cx="642.0" cy="331.5" rx="1.8" ry="2.1" fill="url(#gy)" transform="rotate(0 642.0 331.5)"/>
<ellipse cx="646.7" cy="336.9" rx="3.9" ry="3.5" fill="url(#gb)" transform="rotate(0 646.7 336.9)"/>
<ellipse cx="646.0" cy="344.4" rx="5.3" ry="6.1" fill="url(#gy)" transform="rotate(0 646.0 344.4)"/>
<ellipse cx="653.4" cy="342.9" rx="5.0" ry="5.3" fill="url(#gb)" transform="rotate(0 653.4 342.9)"/>
<ellipse cx="641.5" cy="344.4" rx="2.6" ry="3.5" fill="url(#gb)" transform="rotate(0 641.5 344.4)"/>
<ellipse cx="627.5" cy="336.9" rx="9.4" ry="4.4" fill="url(#gy)" transform="rotate(0 627.5 336.9)"/>
<ellipse cx="627.0" cy="325.7" rx="7.9" ry="4.4" fill="url(#gb)" transform="rotate(0 627.0 325.7)"/>
<ellipse cx="625.0" cy="322.4" rx="3.5" ry="2.1" fill="url(#gy)" transform="rotate(0 625.0 322.4)"/>
<ellipse cx="630.2" cy="342.9" rx="7.1" ry="4.4" fill="url(#gb)" transform="rotate(0 630.2 342.9)"/>
<ellipse cx="628.7" cy="318.2" rx="2.1" ry="1.8" fill="url(#gy)" transform="rotate(0 628.7 318.2)"/>
<ellipse cx="635.5" cy="320.4" rx="2.1" ry="1.8" fill="url(#gb)" transform="rotate(0 635.5 320.4)"/>
<ellipse cx="639.2" cy="319.7" rx="2.1" ry="2.1" fill="url(#gy)" transform="rotate(0 639.2 319.7)"/>
<ellipse cx="662.4" cy="337.6" rx="1.8" ry="1.8" fill="url(#gy)" transform="rotate(0 662.4 337.6)"/>
<ellipse cx="663.9" cy="332.4" rx="1.8" ry="1.8" fill="url(#gb)" transform="rotate(0 663.9 332.4)"/>
<polyline points="595.5,442.0 599.0,444.0" fill="none" stroke="#707070" stroke-width="0.9" stroke-linecap="round" stroke-linejoin="round"/>
<polyline points="595.5,442.0 593.5,445.5" fill="none" stroke="#707070" stroke-width="0.9" stroke-linecap="round" stroke-linejoin="round"/>
<polyline points="595.5,442.0 592.0,440.0" fill="none" stroke="#707070" stroke-width="0.9" stroke-linecap="round" stroke-linejoin="round"/>
<polyline points="595.5,442.0 597.5,438.5" fill="none" stroke="#707070" stroke-width="0.9" stroke-linecap="round" stroke-linejoin="round"/>
<polyline points="590.5,440.5 593.3,441.0" fill="none" stroke="#707070" stroke-width="0.9" stroke-linecap="round" stroke-linejoin="round"/>
<polyline points="590.5,440.5 588.7,442.6" fill="none" stroke="#707070" stroke-width="0.9" stroke-linecap="round" stroke-linejoin="round"/>
<polyline points="590.5,440.5 589.5,437.9" fill="none" stroke="#707070" stroke-width="0.9" stroke-linecap="round" stroke-linejoin="round"/>
<polyline points="600.0,437.5 601.0,440.1" fill="none" stroke="#707070" stroke-width="0.9" stroke-linecap="round" stroke-linejoin="round"/>
<polyline points="600.0,437.5 597.2,437.0" fill="none" stroke="#707070" stroke-width="0.9" stroke-linecap="round" stroke-linejoin="round"/>
<polyline points="600.0,437.5 601.8,435.4" fill="none" stroke="#707070" stroke-width="0.9" stroke-linecap="round" stroke-linejoin="round"/>
<polyline points="596.5,446.0 596.1,448.5" fill="none" stroke="#707070" stroke-width="0.9" stroke-linecap="round" stroke-linejoin="round"/>
<polyline points="596.5,446.0 594.6,444.4" fill="none" stroke="#707070" stroke-width="0.9" stroke-linecap="round" stroke-linejoin="round"/>
<polyline points="596.5,446.0 598.8,445.1" fill="none" stroke="#707070" stroke-width="0.9" stroke-linecap="round" stroke-linejoin="round"/>
<polyline points="595.5,442.0 599.2,448.0 604.5,449.5 606.0,454.7" fill="none" stroke="#707070" stroke-width="0.9" stroke-linecap="round" stroke-linejoin="round"/>
<circle cx="599.2" cy="448.0" r="1.1" fill="#e02020"/>
<polyline points="644.5,439.7 648.0,441.7" fill="none" stroke="#707070" stroke-width="0.9" stroke-linecap="round" stroke-linejoin="round"/>
<polyline points="644.5,439.7 642.5,443.2" fill="none" stroke="#707070" stroke-width="0.9" stroke-linecap="round" stroke-linejoin="round"/>
<polyline points="644.5,439.7 641.0,437.7" fill="none" stroke="#707070" stroke-width="0.9" stroke-linecap="round" stroke-linejoin="round"/>
<polyline points="644.5,439.7 646.5,436.2" fill="none" stroke="#707070" stroke-width="0.9" stroke-linecap="round" stroke-linejoin="round"/>
<polyline points="639.5,438.2 642.3,438.7" fill="none" stroke="#707070" stroke-width="0.9" stroke-linecap="round" stroke-linejoin="round"/>
<polyline points="639.5,438.2 637.7,440.3" fill="none" stroke="#707070" stroke-width="0.9" stroke-linecap="round" stroke-linejoin="round"/>
<polyline points="639.5,438.2 638.5,435.6" fill="none" stroke="#707070" stroke-width="0.9" stroke-linecap="round" stroke-linejoin="round"/>
<polyline points="649.0,435.2 650.0,437.8" fill="none" stroke="#707070" stroke-width="0.9" stroke-linecap="round" stroke-linejoin="round"/>
<polyline points="649.0,435.2 646.2,434.7" fill="none" stroke="#707070" stroke-width="0.9" stroke-linecap="round" stroke-linejoin="round"/>
<polyline points="649.0,435.2 650.8,433.1" fill="none" stroke="#707070" stroke-width="0.9" stroke-linecap="round" stroke-linejoin="round"/>
<polyline points="645.5,443.7 645.1,446.2" fill="none" stroke="#707070" stroke-width="0.9" stroke-linecap="round" stroke-linejoin="round"/>
<polyline points="645.5,443.7 643.6,442.1" fill="none" stroke="#707070" stroke-width="0.9" stroke-linecap="round" stroke-linejoin="round"/>
<polyline points="645.5,443.7 647.8,442.8" fill="none" stroke="#707070" stroke-width="0.9" stroke-linecap="round" stroke-linejoin="round"/>
<polyline points="644.5,439.7 643.0,445.7 649.0,449.5" fill="none" stroke="#707070" stroke-width="0.9" stroke-linecap="round" stroke-linejoin="round"/>
<circle cx="650.0" cy="449.0" r="1.1" fill="#e02020"/>
<circle cx="652.0" cy="447.2" r="1.1" fill="#2030c0"/>
<polyline points="583.0,472.0 594.0,473.0" fill="none" stroke="#707070" stroke-width="1.0" stroke-linecap="round" stroke-linejoin="round"/>
<polyline points="585.0,469.5 591.0,470.5" fill="none" stroke="#707070" stroke-width="0.8" stroke-linecap="round" stroke-linejoin="round"/>
<polyline points="585.0,474.5 591.0,475.5" fill="none" stroke="#707070" stroke-width="0.8" stroke-linecap="round" stroke-linejoin="round"/>
<polyline points="584.0,472.0 586.3,474.3" fill="none" stroke="#707070" stroke-width="0.9" stroke-linecap="round" stroke-linejoin="round"/>
<polyline points="584.0,472.0 581.7,474.3" fill="none" stroke="#707070" stroke-width="0.9" stroke-linecap="round" stroke-linejoin="round"/>
<polyline points="584.0,472.0 581.7,469.7" fill="none" stroke="#707070" stroke-width="0.9" stroke-linecap="round" stroke-linejoin="round"/>
<polyline points="584.0,472.0 586.3,469.7" fill="none" stroke="#707070" stroke-width="0.9" stroke-linecap="round" stroke-linejoin="round"/>
<polyline points="658.0,474.9 680.0,476.4" fill="none" stroke="#707070" stroke-width="1.0" stroke-linecap="round" stroke-linejoin="round"/>
<polyline points="660.0,472.4 677.0,473.9" fill="none" stroke="#707070" stroke-width="0.8" stroke-linecap="round" stroke-linejoin="round"/>
<polyline points="660.0,477.4 677.0,478.9" fill="none" stroke="#707070" stroke-width="0.8" stroke-linecap="round" stroke-linejoin="round"/>
<polyline points="679.6,475.6 681.9,477.9" fill="none" stroke="#707070" stroke-width="0.9" stroke-linecap="round" stroke-linejoin="round"/>
<polyline points="679.6,475.6 677.3,477.9" fill="none" stroke="#707070" stroke-width="0.9" stroke-linecap="round" stroke-linejoin="round"/>
<polyline points="679.6,475.6 677.3,473.3" fill="none" stroke="#707070" stroke-width="0.9" stroke-linecap="round" stroke-linejoin="round"/>
<polyline points="679.6,475.6 681.9,473.3" fill="none" stroke="#707070" stroke-width="0.9" stroke-linecap="round" stroke-linejoin="round"/>
<polyline points="616.0,488.4 616.6,494.2" fill="none" stroke="#707070" stroke-width="1.0" stroke-linecap="round" stroke-linejoin="round"/>
<polyline points="614.4,495.1 616.8,493.1 619.2,495.1 620.1,505.1 617.9,507.6 615.3,505.1 614.4,495.1" fill="none" stroke="#6a6a6a" stroke-width="0.9" stroke-linecap="round" stroke-linejoin="round"/>
<polyline points="616.8,493.1 617.9,507.6" fill="none" stroke="#6a6a6a" stroke-width="0.7" stroke-linecap="round" stroke-linejoin="round"/>
<circle cx="612.9" cy="495.1" r="0.9" fill="#8fd0e6"/>
<circle cx="620.7" cy="495.1" r="0.9" fill="#8fd0e6"/>
<circle cx="621.6" cy="505.1" r="0.9" fill="#8fd0e6"/>
<circle cx="613.8" cy="505.1" r="0.9" fill="#8fd0e6"/>
<circle cx="617.9" cy="509.1" r="0.9" fill="#8fd0e6"/>
<polyline points="636.2,489.8 635.3,495.2" fill="none" stroke="#707070" stroke-width="1.0" stroke-linecap="round" stroke-linejoin="round"/>
<polyline points="633.1,495.8 635.8,493.8 637.9,495.8 637.1,505.8 634.6,508.3 632.3,505.8 633.1,495.8" fill="none" stroke="#6a6a6a" stroke-width="0.9" stroke-linecap="round" stroke-linejoin="round"/>
<polyline points="635.8,493.8 634.6,508.3" fill="none" stroke="#6a6a6a" stroke-width="0.7" stroke-linecap="round" stroke-linejoin="round"/>
<circle cx="631.6" cy="495.8" r="0.9" fill="#8fd0e6"/>
<circle cx="639.4" cy="495.8" r="0.9" fill="#8fd0e6"/>
<circle cx="638.6" cy="505.8" r="0.9" fill="#8fd0e6"/>
<circle cx="630.8" cy="505.8" r="0.9" fill="#8fd0e6"/>
<circle cx="634.6" cy="509.8" r="0.9" fill="#8fd0e6"/>
<polyline points="595.5,456.2 600.0,454.0 606.0,457.0 606.0,464.0 600.0,466.0 595.5,462.0 595.5,456.2" fill="none" stroke="#6a6a6a" stroke-width="0.8" stroke-linecap="round" stroke-linejoin="round"/>
<polyline points="597.0,479.4 602.0,478.0 608.0,481.0 609.0,486.9 603.0,488.0 597.0,485.0 597.0,479.4" fill="none" stroke="#6a6a6a" stroke-width="0.8" stroke-linecap="round" stroke-linejoin="round"/>
<polyline points="630.0,456.0 637.0,452.0 644.0,455.0 645.0,462.0" fill="none" stroke="#6a6a6a" stroke-width="0.8" stroke-linecap="round" stroke-linejoin="round"/>
<polyline points="612.0,458.0 618.0,454.0 624.0,457.0" fill="none" stroke="#6a6a6a" stroke-width="0.8" stroke-linecap="round" stroke-linejoin="round"/>
<polyline points="620.0,470.0 626.0,476.0 632.0,470.0" fill="none" stroke="#6a6a6a" stroke-width="0.8" stroke-linecap="round" stroke-linejoin="round"/>
<polyline points="611.0,478.0 617.0,484.0" fill="none" stroke="#6a6a6a" stroke-width="0.8" stroke-linecap="round" stroke-linejoin="round"/>
<polyline points="640.0,478.0 634.0,484.0" fill="none" stroke="#6a6a6a" stroke-width="0.8" stroke-linecap="round" stroke-linejoin="round"/>
<polyline points="644.0,480.0 650.0,486.0 656.0,482.0" fill="none" stroke="#6a6a6a" stroke-width="0.8" stroke-linecap="round" stroke-linejoin="round"/>
<polyline points="656.0,478.0 662.0,472.0" fill="none" stroke="#6a6a6a" stroke-width="0.8" stroke-linecap="round" stroke-linejoin="round"/>
<polyline points="625.0,474.0 625.0,486.0" fill="none" stroke="#6a6a6a" stroke-width="0.8" stroke-linecap="round" stroke-linejoin="round"/>
<polyline points="610.0,467.0 606.0,472.0" fill="none" stroke="#6a6a6a" stroke-width="0.8" stroke-linecap="round" stroke-linejoin="round"/>
<polyline points="622.0,484.0 628.0,488.0" fill="none" stroke="#6a6a6a" stroke-width="0.8" stroke-linecap="round" stroke-linejoin="round"/>
<polyline points="605.5,460.0 602.0,462.0 598.5,460.0 598.5,456.0 602.0,454.0 605.5,456.0 605.5,460.0" fill="none" stroke="#7a7a7a" stroke-width="0.75" stroke-linecap="round" stroke-linejoin="round"/>
<polyline points="616.0,456.0 614.0,459.5 610.0,459.5 608.0,456.0 610.0,452.5 614.0,452.5 616.0,456.0" fill="none" stroke="#7a7a7a" stroke-width="0.75" stroke-linecap="round" stroke-linejoin="round"/>
<polyline points="625.5,460.0 622.0,462.0 618.5,460.0 618.5,456.0 622.0,454.0 625.5,456.0 625.5,460.0" fill="none" stroke="#7a7a7a" stroke-width="0.75" stroke-linecap="round" stroke-linejoin="round"/>
<polyline points="643.5,460.0 640.0,462.0 636.5,460.0 636.5,456.0 640.0,454.0 643.5,456.0 643.5,460.0" fill="none" stroke="#7a7a7a" stroke-width="0.75" stroke-linecap="round" stroke-linejoin="round"/>
<polyline points="654.0,458.0 652.0,461.5 648.0,461.5 646.0,458.0 648.0,454.5 652.0,454.5 654.0,458.0" fill="none" stroke="#7a7a7a" stroke-width="0.75" stroke-linecap="round" stroke-linejoin="round"/>
<polyline points="602.0,472.0 600.0,475.5 596.0,475.5 594.0,472.0 596.0,468.5 600.0,468.5 602.0,472.0" fill="none" stroke="#7a7a7a" stroke-width="0.75" stroke-linecap="round" stroke-linejoin="round"/>
<polyline points="658.0,472.0 656.0,475.5 652.0,475.5 650.0,472.0 652.0,468.5 656.0,468.5 658.0,472.0" fill="none" stroke="#7a7a7a" stroke-width="0.75" stroke-linecap="round" stroke-linejoin="round"/>
<polyline points="613.5,480.0 610.0,482.0 606.5,480.0 606.5,476.0 610.0,474.0 613.5,476.0 613.5,480.0" fill="none" stroke="#7a7a7a" stroke-width="0.75" stroke-linecap="round" stroke-linejoin="round"/>
<polyline points="645.5,480.0 642.0,482.0 638.5,480.0 638.5,476.0 642.0,474.0 645.5,476.0 645.5,480.0" fill="none" stroke="#7a7a7a" stroke-width="0.75" stroke-linecap="round" stroke-linejoin="round"/>
<polyline points="630.0,472.0 628.0,475.5 624.0,475.5 622.0,472.0 624.0,468.5 628.0,468.5 630.0,472.0" fill="none" stroke="#7a7a7a" stroke-width="0.75" stroke-linecap="round" stroke-linejoin="round"/>
<polyline points="591.5,474.0 588.0,476.0 584.5,474.0 584.5,470.0 588.0,468.0 591.5,470.0 591.5,474.0" fill="none" stroke="#7a7a7a" stroke-width="0.75" stroke-linecap="round" stroke-linejoin="round"/>
<polyline points="671.5,476.0 668.0,478.0 664.5,476.0 664.5,472.0 668.0,470.0 671.5,472.0 671.5,476.0" fill="none" stroke="#7a7a7a" stroke-width="0.75" stroke-linecap="round" stroke-linejoin="round"/>
<polyline points="608.0,484.0 606.0,487.5 602.0,487.5 600.0,484.0 602.0,480.5 606.0,480.5 608.0,484.0" fill="none" stroke="#7a7a7a" stroke-width="0.75" stroke-linecap="round" stroke-linejoin="round"/>
<polyline points="652.0,484.0 650.0,487.5 646.0,487.5 644.0,484.0 646.0,480.5 650.0,480.5 652.0,484.0" fill="none" stroke="#7a7a7a" stroke-width="0.75" stroke-linecap="round" stroke-linejoin="round"/>
<polyline points="599.6,462.0 597.8,465.1 594.2,465.1 592.4,462.0 594.2,458.9 597.8,458.9 599.6,462.0" fill="none" stroke="#7a7a7a" stroke-width="0.7" stroke-linecap="round" stroke-linejoin="round"/>
<polyline points="609.1,463.8 606.0,465.6 602.9,463.8 602.9,460.2 606.0,458.4 609.1,460.2 609.1,463.8" fill="none" stroke="#7a7a7a" stroke-width="0.7" stroke-linecap="round" stroke-linejoin="round"/>
<polyline points="619.1,453.8 616.0,455.6 612.9,453.8 612.9,450.2 616.0,448.4 619.1,450.2 619.1,453.8" fill="none" stroke="#7a7a7a" stroke-width="0.7" stroke-linecap="round" stroke-linejoin="round"/>
<polyline points="639.1,453.8 636.0,455.6 632.9,453.8 632.9,450.2 636.0,448.4 639.1,450.2 639.1,453.8" fill="none" stroke="#7a7a7a" stroke-width="0.7" stroke-linecap="round" stroke-linejoin="round"/>
<polyline points="649.1,465.8 646.0,467.6 642.9,465.8 642.9,462.2 646.0,460.4 649.1,462.2 649.1,465.8" fill="none" stroke="#7a7a7a" stroke-width="0.7" stroke-linecap="round" stroke-linejoin="round"/>
<polyline points="659.6,466.0 657.8,469.1 654.2,469.1 652.4,466.0 654.2,462.9 657.8,462.9 659.6,466.0" fill="none" stroke="#7a7a7a" stroke-width="0.7" stroke-linecap="round" stroke-linejoin="round"/>
<polyline points="623.1,487.8 620.0,489.6 616.9,487.8 616.9,484.2 620.0,482.4 623.1,484.2 623.1,487.8" fill="none" stroke="#7a7a7a" stroke-width="0.7" stroke-linecap="round" stroke-linejoin="round"/>
<polyline points="635.1,487.8 632.0,489.6 628.9,487.8 628.9,484.2 632.0,482.4 635.1,484.2 635.1,487.8" fill="none" stroke="#7a7a7a" stroke-width="0.7" stroke-linecap="round" stroke-linejoin="round"/>
<polyline points="615.6,470.0 613.8,473.1 610.2,473.1 608.4,470.0 610.2,466.9 613.8,466.9 615.6,470.0" fill="none" stroke="#7a7a7a" stroke-width="0.7" stroke-linecap="round" stroke-linejoin="round"/>
<polyline points="643.6,470.0 641.8,473.1 638.2,473.1 636.4,470.0 638.2,466.9 641.8,466.9 643.6,470.0" fill="none" stroke="#7a7a7a" stroke-width="0.7" stroke-linecap="round" stroke-linejoin="round"/>
<ellipse cx="607.4" cy="445.0" rx="1.5" ry="1.5" fill="url(#gy)" transform="rotate(0 607.4 445.0)"/>
<ellipse cx="606.7" cy="450.2" rx="2.2" ry="2.2" fill="url(#gb)" transform="rotate(0 606.7 450.2)"/>
<ellipse cx="605.2" cy="454.7" rx="3.3" ry="3.3" fill="url(#gy)" transform="rotate(0 605.2 454.7)"/>
<ellipse cx="612.7" cy="456.2" rx="3.7" ry="3.3" fill="url(#gb)" transform="rotate(0 612.7 456.2)"/>
<ellipse cx="612.7" cy="460.0" rx="1.8" ry="1.8" fill="url(#gy)" transform="rotate(0 612.7 460.0)"/>
<ellipse cx="620.2" cy="460.0" rx="2.7" ry="3.7" fill="url(#gy)" transform="rotate(0 620.2 460.0)"/>
<ellipse cx="618.0" cy="458.5" rx="2.2" ry="1.8" fill="url(#gb)" transform="rotate(0 618.0 458.5)"/>
<ellipse cx="616.4" cy="466.0" rx="3.7" ry="2.7" fill="url(#gy)" transform="rotate(0 616.4 466.0)"/>
<ellipse cx="625.4" cy="468.2" rx="5.9" ry="6.3" fill="url(#gb)" transform="rotate(0 625.4 468.2)"/>
<ellipse cx="629.9" cy="462.2" rx="3.7" ry="2.7" fill="url(#gy)" transform="rotate(0 629.9 462.2)"/>
<ellipse cx="617.2" cy="473.4" rx="3.7" ry="3.3" fill="url(#gy)" transform="rotate(0 617.2 473.4)"/>
<ellipse cx="614.2" cy="483.1" rx="4.5" ry="4.5" fill="url(#gb)" transform="rotate(0 614.2 483.1)"/>
<ellipse cx="625.4" cy="481.6" rx="3.3" ry="2.2" fill="url(#gy)" transform="rotate(0 625.4 481.6)"/>
<ellipse cx="606.0" cy="477.2" rx="3.3" ry="4.0" fill="url(#gy)" transform="rotate(0 606.0 477.2)"/>
<ellipse cx="597.7" cy="474.2" rx="3.7" ry="4.5" fill="url(#gb)" transform="rotate(0 597.7 474.2)"/>
<ellipse cx="597.7" cy="469.7" rx="2.7" ry="1.8" fill="url(#gy)" transform="rotate(0 597.7 469.7)"/>
<ellipse cx="603.0" cy="466.7" rx="4.0" ry="2.2" fill="url(#gy)" transform="rotate(0 603.0 466.7)"/>
<ellipse cx="600.0" cy="466.0" rx="2.2" ry="1.5" fill="url(#gb)" transform="rotate(0 600.0 466.0)"/>
<ellipse cx="615.7" cy="491.4" rx="1.8" ry="1.5" fill="url(#gy)" transform="rotate(0 615.7 491.4)"/>
<ellipse cx="621.5" cy="463.5" rx="2.2" ry="1.8" fill="url(#gb)" transform="rotate(0 621.5 463.5)"/>
<ellipse cx="644.5" cy="452.4" rx="3.7" ry="3.3" fill="url(#gy)" transform="rotate(0 644.5 452.4)"/>
<ellipse cx="649.0" cy="456.9" rx="5.5" ry="3.3" fill="url(#gb)" transform="rotate(0 649.0 456.9)"/>
<ellipse cx="652.0" cy="461.4" rx="5.5" ry="3.3" fill="url(#gy)" transform="rotate(-15 652.0 461.4)"/>
<ellipse cx="646.0" cy="465.9" rx="7.3" ry="2.7" fill="url(#gy)" transform="rotate(0 646.0 465.9)"/>
<ellipse cx="648.2" cy="468.2" rx="4.5" ry="2.2" fill="url(#gb)" transform="rotate(0 648.2 468.2)"/>
<ellipse cx="654.9" cy="472.6" rx="4.5" ry="7.3" fill="url(#gb)" transform="rotate(0 654.9 472.6)"/>
<ellipse cx="646.0" cy="475.6" rx="4.0" ry="4.0" fill="url(#gy)" transform="rotate(0 646.0 475.6)"/>
<ellipse cx="643.0" cy="475.6" rx="2.7" ry="3.7" fill="url(#gb)" transform="rotate(0 643.0 475.6)"/>
<ellipse cx="641.5" cy="468.2" rx="2.2" ry="1.8" fill="url(#gy)" transform="rotate(0 641.5 468.2)"/>
<ellipse cx="634.0" cy="474.1" rx="4.0" ry="4.0" fill="url(#gy)" transform="rotate(0 634.0 474.1)"/>
<ellipse cx="637.7" cy="483.9" rx="5.1" ry="5.1" fill="url(#gb)" transform="rotate(0 637.7 483.9)"/>
<ellipse cx="636.0" cy="486.0" rx="2.2" ry="2.2" fill="url(#gy)" transform="rotate(0 636.0 486.0)"/>
<ellipse cx="649.0" cy="485.4" rx="3.3" ry="2.7" fill="url(#gy)" transform="rotate(0 649.0 485.4)"/>
<ellipse cx="637.0" cy="492.8" rx="2.2" ry="1.8" fill="url(#gy)" transform="rotate(0 637.0 492.8)"/>
<ellipse cx="631.0" cy="462.2" rx="4.5" ry="3.7" fill="url(#gb)" transform="rotate(0 631.0 462.2)"/>
<ellipse cx="632.5" cy="460.2" rx="4.5" ry="2.7" fill="url(#gy)" transform="rotate(0 632.5 460.2)"/>
<ellipse cx="628.5" cy="466.7" rx="2.7" ry="4.5" fill="url(#gb)" transform="rotate(0 628.5 466.7)"/>
<ellipse cx="661.7" cy="475.6" rx="1.8" ry="1.8" fill="url(#gb)" transform="rotate(0 661.7 475.6)"/>
<ellipse cx="663.9" cy="470.4" rx="1.5" ry="1.5" fill="url(#gy)" transform="rotate(0 663.9 470.4)"/>
<ellipse cx="653.4" cy="448.0" rx="1.5" ry="1.2" fill="url(#gy)" transform="rotate(0 653.4 448.0)"/>
</svg>
</body></html>
